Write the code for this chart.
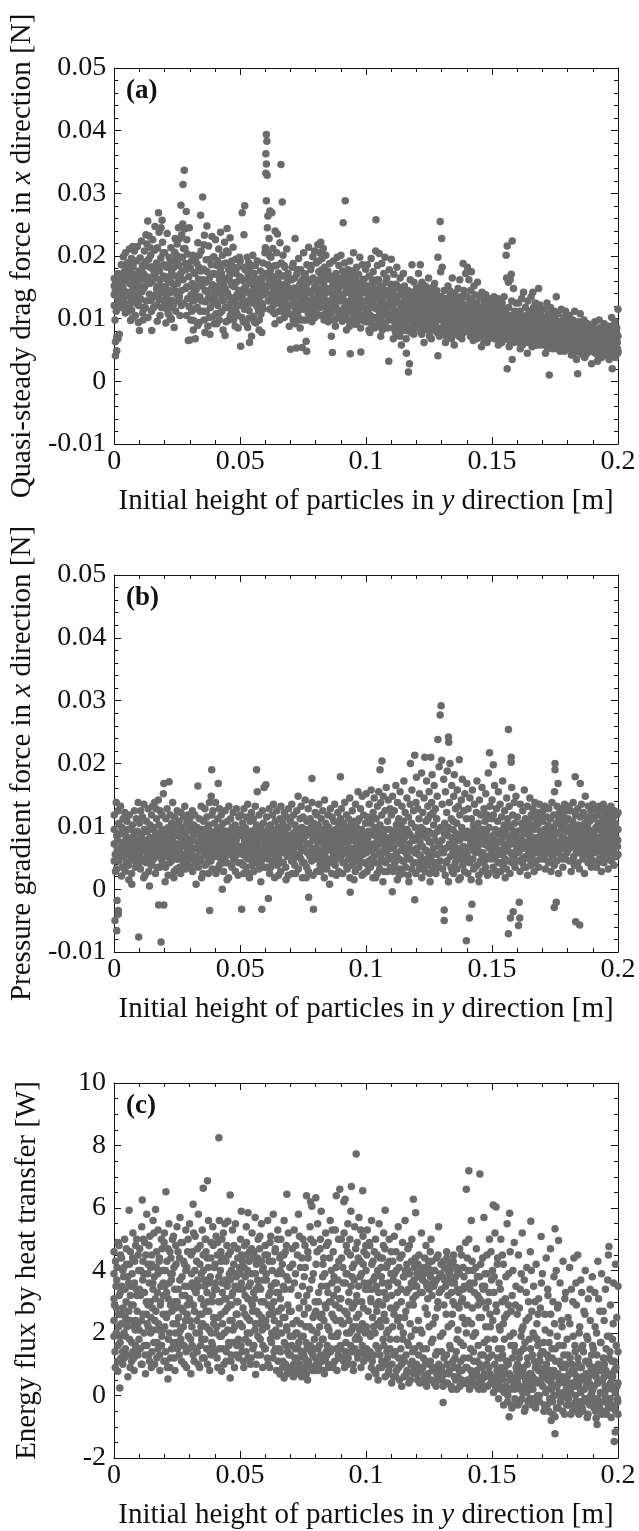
<!DOCTYPE html>
<html><head><meta charset="utf-8">
<script src="https://cdn.jsdelivr.net/npm/echarts@6/dist/echarts.min.js"></script>
<style>html,body{margin:0;padding:0;background:#fff}#c{width:639px;height:1531px}</style>
</head><body><div id="c"></div>
<script>
const heightTicks = ['0','0.05','0.1','0.15','0.2'];
const forceTicks = ['-0.01','0','0.01','0.02','0.03','0.04','0.05'];
const fluxTicks = ['-2','0','2','4','6','8','10'];

// (a) quasi-steady drag force [N] vs initial height [m]
const dragForce = [
[0,.0152],[0,.0138],[0,.0121],[0,.0164],[.0005,.0041],[.001,.0049],[.0005,.0063],[.001,.0071],[.0015,.0068],[.002,.0075],[.0003,.0098],[.0008,.0112],[.0012,.0145],[.0015,.0172],[.002,.0158],[.0025,.0131],[.0028,.0186],[.003,.0162],[.0035,.0148],[.0036,.0199],[.004,.0175],[.0042,.0121],[.0045,.0205],[.0048,.0168],[.005,.0142],[.0052,.0189],[.0055,.0112],[.0058,.0157],[.006,.0211],[.0062,.0178],[.0065,.0134],[.0068,.0196],[.007,.0162],[.0072,.0101],[.0075,.0183],[.0078,.0148],[.008,.0208],[.0082,.0171],[.0085,.0125],[.0088,.0192],[.009,.0155],[.0092,.0215],[.0095,.0138],[.0098,.0176],[.0096,.0094],[.0065,.0097],[.0033,.0139],[.0018,.0127],[.0074,.0215],[.0086,.0161],
[.0100,.0081],[.0103,.0197],[.0105,.0162],[.0108,.0224],[.011,.0143],[.0112,.0185],[.0115,.0118],[.0118,.0171],[.012,.0208],[.0122,.0152],[.0125,.0191],[.0128,.0128],[.013,.0219],[.0133,.0256],[.0135,.0166],[.0138,.0232],[.014,.0139],[.0142,.0182],[.0145,.0201],[.0148,.0112],[.0149,.0081],[.015,.0158],[.0153,.0226],[.0155,.0178],[.0158,.0135],[.016,.0209],[.0162,.0247],[.0165,.0165],[.0168,.0189],[.017,.0122],[.0172,.0213],[.0175,.0152],[.0176,.0269],[.0178,.0238],[.018,.0176],[.0182,.0105],[.0185,.0197],[.0188,.0141],[.019,.0257],[.0192,.0222],[.0195,.0168],[.0198,.0128],[.0196,.0186],[.0114,.0098],[.0126,.0234],[.0186,.0245],[.0143,.0213],[.0168,.0148],
[.0200,.0205],[.0203,.0151],[.0205,.0093],[.0208,.0182],[.021,.0236],[.0212,.0124],[.0215,.0167],[.0218,.0198],[.022,.0141],[.0222,.0102],[.0225,.0213],[.0228,.0176],[.023,.0129],[.0232,.0192],[.0235,.0155],[.0238,.0086],[.024,.0206],[.0242,.0228],[.0245,.0168],[.0248,.0139],[.025,.0219],[.0252,.0188],[.0255,.0245],[.0258,.0162],[.026,.0228],[.0262,.0198],[.0265,.0281],[.0268,.0234],[.027,.0176],[.0272,.0251],[.0273,.0314],[.0275,.0212],[.0278,.0337],[.028,.0243],[.0282,.0188],[.0284,.0148],[.0286,.0271],[.0288,.0226],[.029,.0203],[.0292,.0132],[.0294,.0065],[.0296,.0167],[.0298,.0245],[.0226,.0118],[.0246,.0192],[.0266,.0121],[.0287,.0105],[.0259,.0135],
[.0300,.0066],[.0302,.0181],[.0305,.0138],[.0308,.0112],[.031,.0156],[.0312,.0201],[.0315,.0097],[.0318,.0129],[.032,.0172],[.0322,.0068],[.0325,.0146],[.0328,.0188],[.033,.0118],[.0332,.0221],[.0335,.0163],[.0338,.0094],[.034,.0135],[.0343,.0265],[.0345,.0208],[.0348,.0152],[.0351,.0294],[.0353,.0112],[.0355,.0179],[.0358,.0233],[.036,.0078],[.0362,.0127],[.0365,.0194],[.0368,.0248],[.037,.0142],[.0372,.0088],[.0375,.0216],[.0378,.0165],[.038,.0075],[.0382,.0118],[.0385,.0186],[.0388,.0231],[.039,.0154],[.0392,.0103],[.0395,.0199],[.0398,.0138],[.0336,.0182],[.0364,.0158],[.0384,.0132],[.0316,.0174],[.0356,.0218],
[.0400,.0171],[.0402,.0226],[.0405,.0128],[.0408,.0092],[.041,.0193],[.0412,.0145],[.0415,.0211],[.0418,.0162],[.042,.0109],[.0422,.0238],[.0425,.0183],[.0428,.0135],[.043,.0201],[.0432,.0082],[.0435,.0157],[.0438,.0222],[.044,.0073],[.0442,.0118],[.0445,.0189],[.0448,.0244],[.045,.0141],[.0452,.0205],[.0455,.0098],[.0458,.0168],[.046,.0229],[.0462,.0125],[.0465,.0186],[.0468,.0153],[.047,.0102],[.0472,.0214],[.0475,.0176],[.0478,.0131],[.048,.0088],[.0482,.0195],[.0485,.0158],[.0488,.0122],[.049,.0182],[.0492,.0085],[.0495,.0145],[.0498,.0167],[.0446,.0208],[.0466,.0114],[.0426,.0172],[.0486,.0109],
[.0500,.0192],[.0502,.0056],[.0505,.0132],[.0508,.0269],[.051,.0161],[.0512,.0095],[.0515,.0234],[.0518,.028],[.052,.0178],[.0522,.0121],[.0525,.0145],[.0528,.0198],[.053,.0086],[.0532,.0165],[.0535,.0113],[.0537,.0062],[.054,.0182],[.0542,.0138],[.0545,.0072],[.0548,.0155],[.055,.0201],[.0552,.0104],[.0555,.0172],[.0558,.0128],[.056,.0185],[.0562,.0093],[.0565,.0148],[.0568,.0192],[.057,.0118],[.0572,.0163],[.0575,.0082],[.0578,.0135],[.058,.0176],[.0582,.0107],[.0585,.0156],[.0586,.0078],[.0588,.0122],[.059,.0189],[.0592,.0142],[.0595,.0172],[.0598,.0205],[.0554,.0146],[.0534,.0189],[.0516,.0148],[.0574,.0112],
[.0600,.0213],[.0602,.0363],[.0602,.0332],[.0604,.0394],[.0604,.0347],[.0604,.0288],[.0606,.0383],[.0607,.0329],[.0608,.0245],[.061,.0264],[.061,.0186],[.0612,.0152],[.0615,.0228],[.0618,.0272],[.062,.0131],[.0622,.0198],[.0625,.0168],[.0626,.0269],[.0628,.0112],[.063,.0212],[.0632,.0147],[.0635,.0184],[.0638,.0092],[.0639,.024],[.064,.0158],[.0642,.0126],[.0645,.0205],[.0648,.0235],[.065,.0141],[.0652,.0173],[.0655,.0112],[.0658,.0221],[.066,.0138],[.0662,.0346],[.0663,.0189],[.0665,.0154],[.0667,.0286],[.0668,.0127],[.067,.0201],[.0672,.0168],[.0675,.0102],[.0678,.0182],[.068,.0131],[.0682,.0155],[.0685,.0211],[.0688,.0118],[.069,.0172],[.0692,.0141],[.0695,.0088],[.0698,.0163],[.0636,.0136],[.0616,.0201],[.0646,.0148],[.0673,.0135],
[.0700,.0051],[.0702,.0134],[.0705,.0162],[.0708,.0105],[.071,.0188],[.0712,.0125],[.0715,.0149],[.0718,.0228],[.072,.0092],[.0723,.0053],[.0725,.0171],[.0728,.0136],[.073,.0112],[.0732,.0196],[.0735,.0153],[.0738,.0085],[.074,.0178],[.0742,.0121],[.0746,.0054],[.0748,.0162],[.075,.0138],[.0752,.0205],[.0755,.0098],[.0758,.0171],[.076,.0126],[.0762,.0064],[.0764,.0048],[.0765,.0186],[.0768,.0145],[.077,.0109],[.0772,.0214],[.0775,.0159],[.0778,.0122],[.078,.0178],[.0782,.0142],[.0785,.0095],[.0788,.0199],[.079,.0165],[.0792,.0131],[.0795,.0208],[.0798,.0151],[.0744,.0142],[.0726,.0116],[.0756,.0152],[.0784,.0118],
[.0800,.0124],[.0802,.0189],[.0805,.0158],[.0808,.0218],[.081,.0142],[.0812,.0175],[.0815,.0205],[.0818,.0118],[.082,.0222],[.0822,.0168],[.0825,.0196],[.0828,.0135],[.083,.0212],[.0832,.0152],[.0835,.0182],[.0838,.0108],[.084,.0201],[.0842,.0163],[.0845,.0128],[.0848,.0176],[.085,.0095],[.0852,.0145],[.0855,.0188],[.0858,.0115],[.086,.0162],[.0862,.0072],[.0866,.0046],[.0868,.0138],[.087,.0192],[.0872,.0121],[.0875,.0155],[.0878,.0088],[.088,.0172],[.0882,.0131],[.0885,.0198],[.0888,.0111],[.089,.0148],[.0892,.0185],[.0895,.0128],[.0898,.0165],[.0834,.0138],[.0856,.0168],[.0814,.0146],[.0876,.0139],
[.0900,.0201],[.0903,.0134],[.0905,.0096],[.0907,.0176],[.0909,.0253],[.091,.0152],[.0913,.0118],[.0915,.0189],[.0917,.0288],[.0918,.0141],[.092,.0168],[.0922,.0082],[.0925,.0125],[.0928,.0178],[.093,.0145],[.0932,.0112],[.0935,.0192],[.0937,.0044],[.094,.0158],[.0942,.0131],[.0945,.0176],[.0948,.0102],[.095,.0205],[.0952,.0139],[.0955,.0165],[.0958,.0091],[.096,.0123],[.0962,.0182],[.0965,.0148],[.0968,.0108],[.097,.0171],[.0972,.0135],[.0975,.0198],[.0978,.0085],[.0979,.0047],[.098,.0152],[.0982,.0118],[.0985,.0186],[.0988,.0141],[.099,.0105],[.0992,.0163],[.0995,.0128],[.0998,.0179],[.0946,.0121],[.0966,.0157],[.0926,.0149],
[.1000,.0112],[.1002,.0152],[.1005,.0186],[.1008,.0095],[.101,.0138],[.1012,.0168],[.1015,.0078],[.1018,.0121],[.102,.0196],[.1022,.0145],[.1025,.0102],[.1028,.0175],[.103,.0131],[.1032,.0088],[.1035,.0159],[.1038,.0208],[.1039,.0258],[.104,.0116],[.1042,.0142],[.1045,.0185],[.1048,.0098],[.105,.0162],[.1052,.0204],[.1055,.0125],[.1058,.0072],[.106,.0151],[.1062,.0188],[.1065,.0109],[.1068,.0135],[.107,.0172],[.1072,.0092],[.1075,.0198],[.1078,.0145],[.108,.0118],[.1082,.0165],[.1085,.0085],[.1088,.0136],[.109,.0032],[.1092,.0178],[.1095,.0121],[.1098,.0155],[.1046,.0132],[.1026,.0118],[.1066,.0148],
[.1100,.0195],[.1102,.0098],[.1105,.0142],[.1108,.0068],[.111,.0171],[.1112,.0125],[.1115,.0088],[.1118,.0155],[.112,.0112],[.1122,.0182],[.1125,.0136],[.1128,.0075],[.113,.0148],[.1132,.0104],[.1135,.0165],[.1138,.0121],[.114,.0058],[.1142,.0138],[.1145,.0092],[.1148,.0172],[.115,.0115],[.1152,.0152],[.1155,.0081],[.1158,.0128],[.116,.0045],[.1162,.0098],[.1165,.0145],[.1168,.0015],[.117,.0118],[.1172,.0028],[.1175,.0162],[.1178,.0105],[.118,.0139],[.1182,.0186],[.1185,.0085],[.1188,.0124],[.119,.0158],[.1192,.0095],[.1195,.0132],[.1198,.0112],[.1146,.0125],[.1126,.0095],[.1166,.0112],[.1106,.0122],
[.1200,.0148],[.1202,.0088],[.1205,.0125],[.1208,.0172],[.121,.0101],[.1212,.0141],[.1215,.0186],[.1218,.0078],[.122,.0118],[.1222,.0158],[.1225,.0095],[.1228,.0135],[.123,.0062],[.1232,.0112],[.1235,.0152],[.1238,.0128],[.124,.0085],[.1242,.0142],[.1245,.0105],[.1248,.0165],[.125,.0122],[.1252,.0072],[.1255,.0138],[.1258,.0098],[.126,.0149],[.1262,.0118],[.1265,.0082],[.1268,.0132],[.127,.0108],[.1272,.0156],[.1275,.0091],[.1278,.0125],[.128,.0145],[.1282,.0078],[.1285,.0198],[.1285,.0041],[.1288,.0115],[.129,.0135],[.1294,.0255],[.1296,.0175],[.1298,.0098],[.1246,.0115],[.1226,.0145],[.1266,.0128],
[.1300,.0228],[.1302,.0182],[.1305,.0125],[.1308,.0088],[.131,.0145],[.1312,.0108],[.1315,.0062],[.1318,.0132],[.132,.0095],[.1322,.0118],[.1325,.0152],[.1328,.0075],[.133,.0128],[.1332,.0102],[.1335,.0138],[.1338,.0085],[.134,.0115],[.1342,.0165],[.1345,.0092],[.1348,.0122],[.135,.0058],[.1352,.0141],[.1355,.0105],[.1358,.0132],[.136,.0078],[.1362,.0118],[.1365,.0148],[.1368,.0088],[.137,.0125],[.1372,.0162],[.1375,.0098],[.1378,.0135],[.138,.0068],[.1382,.0112],[.1385,.0188],[.1388,.0145],[.139,.0082],[.1392,.0122],[.1395,.0172],[.1398,.0102],[.1346,.0108],[.1326,.0118],[.1366,.0106],
[.1400,.0135],[.1402,.0182],[.1405,.0092],[.1408,.0162],[.141,.0118],[.1412,.0078],[.1415,.0145],[.1418,.0175],[.142,.0105],[.1422,.0128],[.1425,.0065],[.1428,.0152],[.143,.0098],[.1432,.0138],[.1435,.0115],[.1438,.0082],[.144,.0125],[.1442,.0158],[.1445,.0072],[.1448,.0108],[.145,.0135],[.1452,.0095],[.1455,.0118],[.1458,.0055],[.146,.0142],[.1462,.0085],[.1465,.0112],[.1468,.0128],[.147,.0078],[.1472,.0102],[.1475,.0138],[.1478,.0092],[.148,.0062],[.1482,.0115],[.1485,.0132],[.1488,.0085],[.149,.0105],[.1492,.0122],[.1495,.0075],[.1498,.0098],[.1446,.0102],[.1426,.0112],[.1466,.0099],
[.1500,.0128],[.1502,.0088],[.1505,.0112],[.1508,.0135],[.151,.0068],[.1512,.0105],[.1515,.0122],[.1518,.0082],[.152,.0095],[.1522,.0132],[.1525,.0058],[.1528,.0112],[.153,.0085],[.1532,.0118],[.1535,.0098],[.1538,.0065],[.154,.0125],[.1542,.0078],[.1545,.0108],[.1548,.0135],[.155,.0072],[.1552,.0095],[.1555,.0115],[.1556,.0201],[.1558,.0165],[.156,.0216],[.156,.002],[.1562,.0088],[.1565,.0158],[.1568,.0055],[.157,.0105],[.1572,.0162],[.1576,.0171],[.1578,.0128],[.158,.0224],[.158,.0035],[.1582,.0092],[.1585,.0148],[.1588,.0062],[.159,.0112],[.1592,.0082],[.1595,.0125],[.1598,.0098],[.1546,.0092],[.1526,.0102],[.1566,.0118],
[.1600,.0105],[.1602,.0068],[.1605,.0125],[.1608,.0088],[.161,.0112],[.1612,.0052],[.1615,.0095],[.1618,.0132],[.162,.0078],[.1622,.0102],[.1625,.0142],[.1628,.0065],[.163,.0092],[.1632,.0118],[.1635,.0082],[.1638,.0105],[.164,.0045],[.1642,.0128],[.1645,.0088],[.1648,.0112],[.165,.0072],[.1652,.0098],[.1655,.0135],[.1658,.0062],[.166,.0108],[.1662,.0085],[.1665,.0118],[.1668,.0075],[.167,.0095],[.1672,.0125],[.1675,.0058],[.1678,.0102],[.168,.0082],[.1682,.0112],[.1685,.0068],[.1688,.0092],[.169,.0122],[.1692,.0078],[.1695,.0105],[.1698,.0088],[.1646,.0098],[.1626,.0085],[.1666,.0095],[.1685,.0148],[.1662,.0142],
[.1700,.0098],[.1702,.0062],[.1705,.0115],[.1708,.0078],[.171,.0102],[.1712,.0045],[.1715,.0088],[.1718,.0125],[.172,.0072],[.1722,.0095],[.1725,.0108],[.1727,.001],[.1728,.0058],[.173,.0085],[.1732,.0118],[.1735,.0068],[.1738,.0092],[.174,.0105],[.1742,.0052],[.1745,.0082],[.1748,.0112],[.175,.0075],[.1752,.0098],[.1755,.0135],[.1758,.0062],[.176,.0088],[.1762,.0108],[.1765,.0072],[.1768,.0095],[.177,.0048],[.1772,.0082],[.1775,.0115],[.1778,.0065],[.178,.0092],[.1782,.0078],[.1785,.0102],[.1788,.0055],[.179,.0088],[.1792,.0112],[.1795,.0068],[.1798,.0085],[.1746,.0092],[.1726,.0082],[.1766,.0085],[.1786,.0072],
[.1800,.0095],[.1802,.0058],[.1805,.0078],[.1808,.0105],[.181,.0065],[.1812,.0088],[.1815,.0042],[.1818,.0072],[.182,.0098],[.1822,.0055],[.1825,.0082],[.1828,.0112],[.183,.0062],[.1832,.0085],[.1835,.0035],[.1838,.0072],[.184,.0012],[.1842,.0095],[.1845,.0058],[.1848,.0078],[.185,.0108],[.1852,.0045],[.1855,.0068],[.1858,.0088],[.186,.0052],[.1862,.0075],[.1865,.0098],[.1868,.0038],[.187,.0065],[.1872,.0085],[.1875,.0055],[.1878,.0072],[.188,.0092],[.1882,.0048],[.1885,.0068],[.1888,.0082],[.189,.0058],[.1892,.0075],[.1895,.0028],[.1898,.0062],[.1846,.0062],[.1826,.0072],[.1866,.0062],[.1886,.0058],
[.1900,.0088],[.1902,.0052],[.1905,.0072],[.1908,.0095],[.191,.0045],[.1912,.0065],[.1915,.0082],[.1918,.0032],[.192,.0058],[.1922,.0078],[.1925,.0098],[.1928,.0048],[.193,.0068],[.1932,.0085],[.1935,.0038],[.1938,.0062],[.194,.0075],[.1942,.0052],[.1945,.0092],[.1948,.0065],[.195,.0042],[.1952,.0078],[.1955,.0058],[.1958,.0088],[.196,.0048],[.1962,.0068],[.1965,.0035],[.1968,.0082],[.197,.0055],[.1972,.0072],[.1975,.0102],[.1977,.002],[.1978,.0062],[.198,.0045],[.1982,.0078],[.1985,.0058],[.1988,.0095],[.199,.0038],[.1992,.0068],[.1995,.0085],[.1998,.0052],[.2,.0072],[.2,.0115],[.2,.0048],[.1946,.0062],[.1926,.0068],[.1966,.0058]
];
const dragForceMore = [
[.0004,.0143],[.0007,.0158],[.0013,.0133],[.0017,.0149],[.0022,.0166],[.0027,.0118],[.0031,.0151],[.0037,.0128],[.0041,.0161],[.0044,.0109],[.0049,.0182],[.0053,.0136],[.0057,.0171],[.0061,.0124],[.0066,.0155],[.0069,.0114],[.0073,.0145],[.0077,.0192],[.0081,.0132],[.0084,.0105],[.0089,.0141],[.0093,.0168],[.0097,.0121],
[.0101,.0151],[.0106,.0131],[.0109,.0176],[.0113,.0109],[.0117,.0148],[.0121,.0184],[.0124,.0117],[.0129,.0162],[.0134,.0102],[.0137,.0195],[.0141,.0156],[.0146,.0129],[.0151,.0183],[.0156,.0118],[.0159,.0171],[.0163,.0138],[.0167,.0212],[.0171,.0096],[.0174,.0182],[.0179,.0131],[.0183,.0162],[.0187,.0118],[.0191,.0151],[.0194,.0205],[.0199,.0142],
[.0201,.0117],[.0204,.0185],[.0207,.0132],[.0211,.0162],[.0214,.0108],[.0217,.0145],[.0221,.0189],[.0224,.0158],[.0227,.0099],[.0231,.0168],[.0234,.0121],[.0237,.0182],[.0241,.0145],[.0244,.0112],[.0247,.0201],[.0251,.0156],[.0254,.0128],[.0257,.0185],[.0261,.0105],[.0264,.0172],[.0267,.0145],[.0271,.0198],[.0274,.0162],[.0277,.0125],[.0281,.0212],[.0285,.0178],[.0289,.0151],[.0293,.0188],[.0297,.0119],
[.0301,.0152],[.0304,.0098],[.0307,.0192],[.0311,.0128],[.0314,.0082],[.0317,.0145],[.0321,.0116],[.0324,.0198],[.0327,.0135],[.0331,.0089],[.0334,.0152],[.0337,.0201],[.0341,.0112],[.0344,.0176],[.0347,.0128],[.0352,.0162],[.0357,.0098],[.0361,.0145],[.0366,.0112],[.0369,.0175],[.0373,.0132],[.0377,.0102],[.0381,.0195],[.0386,.0148],[.0391,.0125],[.0394,.0172],[.0397,.0092],
[.0401,.0138],[.0404,.0108],[.0407,.0185],[.0411,.0121],[.0414,.0152],[.0417,.0098],[.0421,.0175],[.0424,.0142],[.0427,.0112],[.0431,.0165],[.0434,.0128],[.0437,.0188],[.0441,.0148],[.0444,.0095],[.0447,.0162],[.0451,.0118],[.0454,.0178],[.0457,.0135],[.0461,.0105],[.0464,.0158],[.0467,.0192],[.0471,.0132],[.0474,.0098],[.0477,.0151],[.0481,.0115],[.0484,.0172],[.0487,.0138],[.0491,.0105],[.0494,.0121],[.0497,.0198],
[.0501,.0122],[.0504,.0165],[.0507,.0102],[.0511,.0139],[.0514,.0182],[.0517,.0115],[.0521,.0151],[.0524,.0092],[.0527,.0128],[.0531,.0172],[.0533,.0142],[.0536,.0101],[.0539,.0158],[.0543,.0125],[.0547,.0185],[.0551,.0132],[.0556,.0095],[.0559,.0162],[.0563,.0122],[.0567,.0138],[.0571,.0155],[.0576,.0098],[.0579,.0148],[.0583,.0125],[.0587,.0165],[.0591,.0115],[.0594,.0138],[.0597,.0152],
[.0601,.0172],[.0603,.0142],[.0609,.0205],[.0611,.0128],[.0614,.0162],[.0617,.0115],[.0621,.0178],[.0624,.0138],[.0627,.0152],[.0631,.0121],[.0634,.0165],[.0637,.0108],[.0641,.0142],[.0644,.0185],[.0647,.0125],[.0651,.0158],[.0654,.0135],[.0657,.0098],[.0661,.0168],[.0664,.0122],[.0669,.0148],[.0671,.0112],[.0674,.0185],[.0677,.0142],[.0681,.0108],[.0684,.0132],[.0687,.0158],[.0691,.0122],[.0694,.0148],[.0697,.0108],
[.0701,.0121],[.0704,.0145],[.0707,.0182],[.0711,.0098],[.0714,.0132],[.0717,.0165],[.0721,.0115],[.0724,.0142],[.0727,.0178],[.0731,.0102],[.0734,.0138],[.0737,.0125],[.0741,.0158],[.0743,.0098],[.0747,.0128],[.0751,.0115],[.0754,.0172],[.0757,.0135],[.0761,.0152],[.0763,.0098],[.0767,.0128],[.0771,.0162],[.0774,.0118],[.0777,.0142],[.0781,.0105],[.0783,.0185],[.0787,.0132],[.0791,.0115],[.0794,.0148],[.0797,.0102],
[.0801,.0152],[.0804,.0108],[.0807,.0135],[.0811,.0192],[.0813,.0125],[.0816,.0162],[.0819,.0145],[.0821,.0105],[.0824,.0178],[.0827,.0128],[.0831,.0158],[.0833,.0098],[.0836,.0142],[.0839,.0172],[.0841,.0118],[.0844,.0148],[.0847,.0102],[.0851,.0168],[.0853,.0128],[.0857,.0142],[.0861,.0108],[.0864,.0125],[.0867,.0152],[.0871,.0135],[.0874,.0098],[.0877,.0162],[.0881,.0118],[.0884,.0145],[.0887,.0102],[.0891,.0132],[.0894,.0155],[.0897,.0112],
[.0901,.0112],[.0904,.0162],[.0906,.0138],[.0911,.0102],[.0914,.0155],[.0916,.0128],[.0919,.0172],[.0921,.0108],[.0924,.0142],[.0927,.0098],[.0929,.0162],[.0931,.0125],[.0934,.0088],[.0936,.0152],[.0939,.0115],[.0941,.0172],[.0944,.0135],[.0947,.0092],[.0949,.0148],[.0951,.0112],[.0954,.0128],[.0957,.0162],[.0959,.0105],[.0961,.0138],[.0964,.0095],[.0967,.0128],[.0969,.0152],[.0971,.0115],[.0974,.0102],[.0977,.0142],[.0981,.0128],[.0984,.0098],[.0987,.0162],[.0991,.0118],[.0994,.0145],[.0997,.0095],
[.1001,.0128],[.1004,.0098],[.1007,.0142],[.1009,.0115],[.1011,.0082],[.1014,.0152],[.1017,.0105],[.1019,.0132],[.1021,.0092],[.1024,.0162],[.1027,.0125],[.1029,.0102],[.1031,.0148],[.1034,.0085],[.1037,.0135],[.1041,.0102],[.1044,.0162],[.1047,.0118],[.1049,.0088],[.1051,.0138],[.1054,.0108],[.1057,.0152],[.1059,.0095],[.1061,.0128],[.1064,.0082],[.1067,.0115],[.1069,.0142],[.1071,.0105],[.1074,.0125],[.1077,.0088],[.1079,.0158],[.1081,.0112],[.1084,.0138],[.1087,.0098],[.1089,.0122],[.1091,.0145],[.1094,.0105],[.1097,.0132],
[.1101,.0105],[.1104,.0132],[.1107,.0085],[.1109,.0115],[.1111,.0148],[.1114,.0102],[.1117,.0078],[.1119,.0128],[.1121,.0095],[.1124,.0152],[.1127,.0112],[.1129,.0088],[.1131,.0125],[.1134,.0072],[.1137,.0138],[.1139,.0098],[.1141,.0115],[.1144,.0082],[.1147,.0142],[.1149,.0105],[.1151,.0128],[.1154,.0092],[.1157,.0112],[.1159,.0068],[.1161,.0135],[.1164,.0102],[.1167,.0122],[.1169,.0085],[.1171,.0105],[.1174,.0132],[.1177,.0078],[.1179,.0118],[.1181,.0095],[.1184,.0142],[.1187,.0108],[.1189,.0075],[.1191,.0128],[.1194,.0102],[.1197,.0085],
[.1201,.0118],[.1204,.0102],[.1207,.0135],[.1209,.0085],[.1211,.0125],[.1214,.0098],[.1217,.0152],[.1219,.0112],[.1221,.0075],[.1224,.0132],[.1227,.0105],[.1229,.0088],[.1231,.0128],[.1234,.0095],[.1237,.0142],[.1239,.0102],[.1241,.0118],[.1244,.0082],[.1247,.0135],[.1249,.0098],[.1251,.0112],[.1254,.0088],[.1257,.0125],[.1259,.0068],[.1261,.0102],[.1264,.0135],[.1267,.0095],[.1269,.0118],[.1271,.0082],[.1274,.0108],[.1277,.0142],[.1279,.0098],[.1281,.0112],[.1284,.0085],[.1287,.0128],[.1289,.0102],[.1291,.0072],[.1293,.0118],[.1297,.0135],
[.1301,.0105],[.1304,.0078],[.1307,.0118],[.1309,.0095],[.1311,.0132],[.1314,.0085],[.1317,.0108],[.1319,.0072],[.1321,.0125],[.1324,.0098],[.1327,.0112],[.1329,.0082],[.1331,.0145],[.1334,.0092],[.1337,.0115],[.1339,.0068],[.1341,.0102],[.1344,.0128],[.1347,.0085],[.1349,.0108],[.1351,.0075],[.1354,.0118],[.1357,.0095],[.1359,.0135],[.1361,.0082],[.1364,.0102],[.1367,.0122],[.1369,.0072],[.1371,.0098],[.1374,.0112],[.1377,.0085],[.1379,.0125],[.1381,.0092],[.1384,.0105],[.1387,.0078],[.1389,.0115],[.1391,.0098],[.1394,.0135],[.1397,.0082],
[.1401,.0108],[.1404,.0122],[.1407,.0085],[.1409,.0098],[.1411,.0132],[.1414,.0072],[.1417,.0105],[.1419,.0092],[.1421,.0118],[.1424,.0085],[.1427,.0102],[.1429,.0125],[.1431,.0078],[.1434,.0095],[.1437,.0112],[.1439,.0068],[.1441,.0102],[.1444,.0088],[.1447,.0118],[.1449,.0082],[.1451,.0105],[.1454,.0072],[.1457,.0095],[.1459,.0112],[.1461,.0078],[.1464,.0098],[.1467,.0062],[.1469,.0088],[.1471,.0118],[.1474,.0082],[.1477,.0105],[.1479,.0072],[.1481,.0095],[.1484,.0108],[.1487,.0068],[.1489,.0088],[.1491,.0102],[.1494,.0078],[.1497,.0115],
[.1501,.0098],[.1504,.0075],[.1507,.0102],[.1509,.0088],[.1511,.0115],[.1514,.0068],[.1517,.0092],[.1519,.0105],[.1521,.0078],[.1524,.0088],[.1527,.0102],[.1529,.0072],[.1531,.0095],[.1534,.0082],[.1537,.0108],[.1539,.0062],[.1541,.0092],[.1544,.0075],[.1547,.0098],[.1549,.0085],[.1551,.0105],[.1554,.0068],[.1557,.0082],[.1559,.0095],[.1561,.0072],[.1564,.0105],[.1567,.0085],[.1569,.0065],[.1571,.0092],[.1574,.0078],[.1577,.0102],[.1579,.0088],[.1581,.0068],[.1584,.0098],[.1587,.0075],[.1589,.0088],[.1591,.0102],[.1594,.0065],[.1597,.0085],
[.1601,.0092],[.1604,.0078],[.1607,.0098],[.1609,.0062],[.1611,.0085],[.1614,.0108],[.1617,.0072],[.1619,.0088],[.1621,.0058],[.1624,.0095],[.1627,.0078],[.1629,.0102],[.1631,.0065],[.1634,.0088],[.1637,.0075],[.1639,.0095],[.1641,.0062],[.1644,.0082],[.1647,.0098],[.1649,.0068],[.1651,.0085],[.1654,.0072],[.1657,.0092],[.1659,.0055],[.1661,.0078],[.1664,.0098],[.1667,.0065],[.1669,.0082],[.1671,.0072],[.1674,.0088],[.1677,.0058],[.1679,.0078],[.1681,.0095],[.1684,.0062],[.1687,.0082],[.1689,.0072],[.1691,.0092],[.1694,.0058],[.1697,.0078],
[.1701,.0082],[.1704,.0068],[.1707,.0092],[.1709,.0058],[.1711,.0075],[.1714,.0098],[.1717,.0062],[.1719,.0082],[.1721,.0052],[.1724,.0072],[.1727,.0088],[.1729,.0065],[.1731,.0078],[.1734,.0095],[.1737,.0055],[.1739,.0075],[.1741,.0085],[.1744,.0062],[.1747,.0072],[.1749,.0092],[.1751,.0058],[.1754,.0078],[.1757,.0068],[.1759,.0085],[.1761,.0052],[.1764,.0072],[.1767,.0082],[.1769,.0062],[.1771,.0075],[.1774,.0088],[.1777,.0055],[.1779,.0072],[.1781,.0065],[.1784,.0085],[.1787,.0048],[.1789,.0068],[.1791,.0078],[.1794,.0058],[.1797,.0072],
[.1801,.0072],[.1804,.0085],[.1807,.0052],[.1809,.0068],[.1811,.0078],[.1814,.0058],[.1817,.0092],[.1819,.0062],[.1821,.0072],[.1824,.0045],[.1827,.0065],[.1829,.0082],[.1831,.0055],[.1834,.0072],[.1837,.0062],[.1839,.0085],[.1841,.0048],[.1844,.0068],[.1847,.0075],[.1849,.0058],[.1851,.0082],[.1854,.0052],[.1857,.0065],[.1859,.0078],[.1861,.0042],[.1864,.0062],[.1867,.0072],[.1869,.0055],[.1871,.0078],[.1874,.0065],[.1877,.0045],[.1879,.0082],[.1881,.0062],[.1884,.0052],[.1887,.0072],[.1889,.0065],[.1891,.0085],[.1894,.0048],[.1897,.0068],
[.1901,.0065],[.1904,.0078],[.1907,.0048],[.1909,.0062],[.1911,.0082],[.1914,.0055],[.1917,.0068],[.1919,.0042],[.1921,.0072],[.1924,.0058],[.1927,.0085],[.1929,.0062],[.1931,.0045],[.1934,.0072],[.1937,.0055],[.1939,.0078],[.1941,.0065],[.1944,.0048],[.1947,.0075],[.1949,.0058],[.1951,.0068],[.1954,.0082],[.1957,.0045],[.1959,.0065],[.1961,.0075],[.1964,.0052],[.1967,.0068],[.1969,.0088],[.1971,.0042],[.1974,.0062],[.1977,.0072],[.1979,.0055],[.1981,.0082],[.1984,.0065],[.1987,.0048],[.1989,.0072],[.1991,.0058],[.1994,.0078],[.1997,.0062],[.1999,.0045]
];

// (b) pressure gradient force [N] vs initial height [m]
const pressureForce = [
[0,.0072],[0,.0095],[0,.0118],[0,.0045],[.0003,-.005],[.001,-.0066],[.0016,-.0034],[.0016,-.004],[.0011,-.0018],[.0005,.0028],[.0008,.0138],[.001,.0085],[.0012,.0062],[.0015,.0125],[.0018,.0105],[.002,.0052],[.0022,.0088],[.0025,.0132],[.0028,.0068],[.003,.0098],[.0032,.0035],[.0035,.0112],[.0038,.0075],[.004,.0058],[.0042,.0122],[.0045,.0092],[.0048,.0042],[.005,.0108],[.0052,.0065],[.0055,.0082],[.0058,.0015],[.006,.0118],[.0062,.0055],[.0065,.0095],[.0068,.0072],[.007,.0008],[.0072,.0102],[.0075,.0062],[.0078,.0085],[.008,.0125],[.0082,.0045],[.0085,.0078],[.0088,.0112],[.009,.0058],[.0092,.0092],[.0095,.0138],[.0097,-.0076],[.0098,.0068],[.0046,.0078],[.0066,.0048],
[.0100,.0105],[.0102,.0075],[.0105,.0125],[.0108,.0048],[.011,.0088],[.0112,.0115],[.0115,.0062],[.0118,.0135],[.012,.0095],[.0122,.0022],[.0125,.0078],[.0128,.0108],[.013,.0055],[.0132,.0092],[.0135,.0128],[.0138,.0068],[.014,.0005],[.0142,.0102],[.0145,.0082],[.0148,.0118],[.015,.0045],[.0152,.0132],[.0155,.0072],[.0158,.0098],[.016,.0138],[.0162,.0058],[.0165,.0088],[.0168,.0112],[.017,.0035],[.0172,.0075],[.0175,.0142],[.0176,-.0025],[.0178,.0102],[.018,.0062],[.0182,.0125],[.0185,.0085],[.0186,-.0084],[.0188,.0048],[.019,.0118],[.0192,.0095],[.0195,.0152],[.0197,-.0025],[.0197,.0168],[.0198,.0068],[.0146,.0062],[.0166,.0128],
[.0200,.0088],[.0202,.0012],[.0205,.0112],[.0208,.0058],[.021,.0128],[.0212,.0075],[.0215,.0098],[.0218,.0171],[.022,.0042],[.0222,.0118],[.0225,.0082],[.0228,.0105],[.023,.0062],[.0232,.0138],[.0235,.0095],[.0238,.0028],[.024,.0115],[.0242,.0072],[.0245,.0102],[.0248,.0048],[.025,.0125],[.0252,.0085],[.0255,.0062],[.0258,.0108],[.026,.0035],[.0262,.0092],[.0265,.0122],[.0268,.0068],[.027,.0098],[.0272,.0052],[.0275,.0115],[.0278,.0078],[.028,.0132],[.0282,.0088],[.0285,.0042],[.0288,.0105],[.029,.0072],[.0292,.0118],[.0295,.0058],[.0298,.0095],[.0246,.0088],[.0226,.0065],[.0266,.0082],
[.0300,.0112],[.0302,.0068],[.0305,.0035],[.0308,.0092],[.031,.0125],[.0312,.0078],[.0315,.0102],[.0318,.0052],[.032,.0118],[.0322,.0088],[.0325,.0008],[.0328,.0065],[.033,.0098],[.0332,.0164],[.0335,.0075],[.0338,.0112],[.034,.0045],[.0342,.0085],[.0345,.0132],[.0348,.0062],[.035,.0095],[.0352,.0025],[.0355,.0108],[.0358,.0072],[.036,.0128],[.0362,.0055],[.0365,.0088],[.0368,.0115],[.037,.0042],[.0372,.0078],[.0375,.0102],[.0378,.0138],[.0379,-.0034],[.038,.0062],[.0382,.0092],[.0385,.0148],[.0387,.019],[.0388,.0118],[.039,.0072],[.0392,.0125],[.0395,.0058],[.0398,.0105],[.0336,.0095],[.0356,.0082],[.0376,.0085],
[.0400,.0082],[.0402,.0138],[.0405,.0065],[.0408,.0095],[.041,.0032],[.0412,.0112],[.0413,.0168],[.0415,.0075],[.0418,.0128],[.042,.0052],[.0422,.0098],[.0425,.0118],[.0428,.0068],[.0429,0],[.043,.0088],[.0432,.0105],[.0435,.0042],[.0438,.0078],[.044,.0125],[.0442,.0062],[.0445,.0092],[.0448,.0015],[.045,.0108],[.0452,.0072],[.0455,.0132],[.0458,.0055],[.046,.0085],[.0462,.0112],[.0465,.0038],[.0468,.0098],[.047,.0068],[.0472,.0122],[.0475,.0082],[.0478,.0048],[.048,.0102],[.0482,.0075],[.0485,.0128],[.0488,.0058],[.049,.0092],[.0492,.0022],[.0495,.0115],[.0498,.0065],[.0446,.0065],[.0426,.0085],[.0466,.0078],
[.0500,.0095],[.0502,.0118],[.0505,.0062],[.0506,-.0032],[.0508,.0085],[.051,.0105],[.0512,.0038],[.0515,.0128],[.0518,.0072],[.052,.0098],[.0522,.0052],[.0525,.0115],[.0528,.0082],[.053,.0135],[.0532,.0065],[.0535,.0092],[.0538,.0025],[.054,.0108],[.0542,.0075],[.0545,.0122],[.0548,.0048],[.055,.0088],[.0552,.0112],[.0555,.0058],[.0558,.0095],[.056,.0132],[.0562,.0068],[.0565,.019],[.0565,.0102],[.0568,.0155],[.057,.0042],[.0572,.0085],[.0575,.0118],[.0578,.0062],[.058,.0098],[.0582,.0012],[.0585,.0078],[.0586,-.0032],[.0588,.0125],[.059,.0052],[.0592,.0105],[.0595,.0162],[.0598,.0072],[.0546,.0082],[.0526,.0068],[.0566,.0078],
[.0600,.0088],[.0602,.0166],[.0605,.0115],[.0608,.0058],[.061,.0095],[.0612,-.0015],[.0615,.0128],[.0618,.0072],[.062,.0102],[.0622,.0035],[.0625,.0082],[.0628,.0118],[.063,.0065],[.0632,.0135],[.0635,.0092],[.0638,.0048],[.064,.0108],[.0642,.0075],[.0645,.0125],[.0648,.0058],[.065,.0098],[.0652,.0022],[.0655,.0085],[.0658,.0112],[.066,.0068],[.0662,.0132],[.0665,.0092],[.0668,.0042],[.067,.0105],[.0672,.0078],[.0675,.0122],[.0678,.0062],[.068,.0088],[.0682,.0015],[.0685,.0115],[.0688,.0072],[.069,.0098],[.0692,.0128],[.0695,.0052],[.0698,.0085],[.0646,.0085],[.0626,.0095],[.0666,.0072],
[.0700,.0108],[.0702,.0065],[.0705,.0135],[.0708,.0088],[.071,.0045],[.0712,.0118],[.0715,.0078],[.0718,.0102],[.072,.0025],[.0722,.0092],[.0725,.0125],[.0728,.0068],[.073,.0148],[.0732,.0085],[.0735,.0055],[.0738,.0112],[.074,.0075],[.0742,.0132],[.0745,.0098],[.0748,.0042],[.075,.0115],[.0752,.0082],[.0755,.0062],[.0758,.0142],[.076,.0095],[.0762,.0018],[.0765,.0108],[.0768,.0072],[.077,.0128],[.0772,-.0013],[.0775,.0088],[.0778,.0112],[.078,.0058],[.0782,.0098],[.0785,.0176],[.0785,.0138],[.0788,.0078],[.0791,-.0032],[.0792,.0105],[.0795,.0065],[.0798,.0122],[.0746,.0085],[.0726,.0095],[.0766,.0088],
[.0800,.0092],[.0802,.0048],[.0805,.0118],[.0808,.0075],[.081,.0102],[.0812,.0135],[.0815,.0062],[.0818,.0088],[.082,.0028],[.0822,.0112],[.0825,.0078],[.0828,.0125],[.083,.0055],[.0832,.0095],[.0835,.0142],[.0838,.0068],[.084,.0105],[.0842,.0038],[.0845,.0085],[.0848,.0118],[.085,.0072],[.0852,.0098],[.0855,.0008],[.0858,.0128],[.086,.0062],[.0862,.0092],[.0865,.0115],[.0868,.0048],[.087,.0082],[.0872,.0108],[.0875,.0135],[.0878,.0065],[.088,.0095],[.0882,.0022],[.0885,.0078],[.0888,.0122],[.089,.0058],[.0892,.0102],[.0895,.0085],[.0898,.0179],[.0898,.0112],[.0846,.0095],[.0826,.0082],[.0866,.0075],
[.0900,.0068],[.0902,.0128],[.0905,.0092],[.0908,.0042],[.091,.0105],[.0912,.0075],[.0915,.0138],[.0918,.0058],[.092,.0098],[.0922,.0118],[.0925,.0032],[.0928,.0085],[.093,.0112],[.0932,.0065],[.0935,.0145],[.0937,-.0005],[.0938,.0088],[.094,.0102],[.0942,.0052],[.0945,.0125],[.0948,.0078],[.095,.0108],[.0952,.0015],[.0955,.0092],[.0958,.0135],[.096,.0062],[.0962,.0098],[.0965,.0072],[.0968,.0155],[.097,.0045],[.0972,.0112],[.0975,.0082],[.0978,.0128],[.098,.0058],[.0982,.0095],[.0985,.0148],[.0988,.0068],[.099,.0118],[.0992,.0025],[.0995,.0088],[.0998,.0105],[.0946,.0085],[.0926,.0075],[.0966,.0108],
[.1000,.0152],[.1002,.0075],[.1005,.0115],[.1008,.0038],[.101,.0092],[.1012,.0135],[.1015,.0062],[.1018,.0105],[.102,.0158],[.1022,.0048],[.1025,.0088],[.1028,.0122],[.103,.0072],[.1032,.0145],[.1035,.0098],[.1038,.0018],[.104,.0112],[.1042,.0065],[.1045,.0132],[.1048,.0085],[.105,.0155],[.1052,.0042],[.1055,.019],[.1055,.0102],[.1058,.0138],[.106,.0078],[.1063,.0204],[.1062,.0118],[.1065,.0058],[.1068,.0148],[.107,.0092],[.1072,.0028],[.1075,.0125],[.1078,.0082],[.108,.0162],[.1082,.0068],[.1085,.0108],[.1088,.0142],[.109,.0052],[.1092,.0095],[.1095,.0128],[.1098,.0075],[.1104,-.0004],[.1046,.0095],[.1026,.0112],[.1066,.0088],
[.1100,.0118],[.1102,.0065],[.1105,.0148],[.1108,.0092],[.111,.0035],[.1112,.0125],[.1115,.0078],[.1118,.0165],[.112,.0102],[.1122,.0052],[.1125,.0138],[.1128,.0085],[.113,.0112],[.1132,.0022],[.1135,.0155],[.1138,.0072],[.114,.0098],[.1142,.0132],[.1145,.0045],[.1148,.0108],[.115,.0172],[.1152,.0082],[.1155,.0122],[.1158,.0058],[.116,.0095],[.1162,.0145],[.1165,.0068],[.1168,.0115],[.117,.0012],[.1172,.0088],[.1175,.0135],[.1176,.02],[.1178,.0062],[.118,.0105],[.1182,.0158],[.1185,.0078],[.1188,.0125],[.119,.0042],[.1193,.0213],[.1193,-.0017],[.1195,.0098],[.1198,.0138],[.1146,.0088],[.1126,.0105],[.1166,.0092],
[.1200,.0178],[.1202,.0082],[.1205,.0128],[.1208,.0055],[.121,.0112],[.1212,.0152],[.1215,.0068],[.1218,.0098],[.122,.0185],[.1222,.0038],[.1225,.0122],[.1228,.0085],[.123,.0145],[.1233,.021],[.1235,.0062],[.1238,.0108],[.124,.0172],[.1242,.0048],[.1245,.0132],[.1248,.0092],[.125,.0155],[.1252,.0025],[.1255,.0118],[.1257,.021],[.1258,.0075],[.126,.0138],[.1262,.0182],[.1265,.0058],[.1268,.0102],[.127,.0165],[.1272,.0088],[.1275,.0128],[.1278,.0042],[.128,.0112],[.1282,.0148],[.1285,.0238],[.1288,.0072],[.129,.0195],[.1294,.0277],[.1298,.0292],[.1296,.0098],[.1246,.0112],[.1226,.0095],[.1266,.0122],
[.1300,.0205],[.1302,.0135],[.1305,.0062],[.1308,.0175],[.131,-.0033],[.131,-.005],[.1312,.0105],[.1315,.0155],[.1318,.0042],[.132,.0122],[.1322,.0188],[.1325,.0085],[.1327,.0242],[.1328,.0234],[.133,.0138],[.1333,.02],[.1335,.0068],[.1338,.0112],[.134,.0165],[.1342,.0028],[.1345,.0095],[.1348,.0148],[.135,.0182],[.1352,.0075],[.1355,.0128],[.1358,.0052],[.136,.0105],[.1362,.0158],[.1365,.0085],[.1368,.0015],[.137,.0206],[.1372,.0118],[.1375,.0065],[.1378,.0142],[.138,.0098],[.1382,.0175],[.1385,.0045],[.1388,.0125],[.139,.0088],[.1392,.0152],[.1395,.0062],[.1398,-.0082],[.1398,.0112],[.1346,.0108],[.1326,.0098],[.1366,.0132],
[.1400,.0168],[.1402,.0092],[.1405,.0128],[.1408,.0048],[.141,-.0046],[.1412,.0145],[.1415,.0075],[.1418,.0112],[.142,-.0024],[.1422,.0158],[.1425,.0062],[.1428,.0098],[.143,.0135],[.1432,.0035],[.1435,.0082],[.1438,.0122],[.144,.0172],[.1442,.0068],[.1445,.0105],[.1448,.0012],[.145,.0142],[.1452,.0088],[.1455,.0118],[.1458,.0055],[.146,.0162],[.1462,.0095],[.1465,.0072],[.1468,.0128],[.147,.0045],[.1472,.0108],[.1475,.0152],[.1478,.0082],[.148,.0118],[.1482,.0022],[.1485,.0185],[.1488,.0098],[.149,.0217],[.149,.0065],[.1492,.0132],[.1495,.0075],[.1498,.0112],[.1446,.0085],[.1426,.0102],[.1466,.0095],
[.1500,.0142],[.1502,.0085],[.1505,.0198],[.1505,.0118],[.1508,.0052],[.151,.0165],[.1512,.0095],[.1515,.0028],[.1518,.0128],[.152,.0075],[.1522,.0108],[.1525,.0155],[.1528,.0062],[.153,.0092],[.1532,.0135],[.1535,.0042],[.1538,.0115],[.154,.0082],[.1542,.0172],[.1545,.0058],[.1548,.0102],[.155,.0125],[.1552,.0018],[.1555,.0088],[.1558,.0145],[.156,.0068],[.1562,.0112],[.1565,.0254],[.1565,-.0071],[.1568,.0132],[.157,.0078],[.1573,-.0046],[.1575,.0098],[.1576,.021],[.1576,.0202],[.1578,.0162],[.158,.0055],[.1582,.0118],[.1584,-.0036],[.1585,.0085],[.1588,.0138],[.159,.0105],[.1592,.0072],[.1595,.0148],[.1598,.0092],[.1546,.0095],[.1526,.0088],[.1566,.0102],
[.1600,.0115],[.1602,.0068],[.1605,-.0058],[.1608,-.0021],[.161,-.0046],[.1612,.0135],[.1615,.0082],[.1618,.0105],[.162,.0048],[.1622,.0125],[.1625,.0092],[.1628,.0158],[.163,.0072],[.1632,.0112],[.1635,.0035],[.1638,.0098],[.164,.0132],[.1642,.0065],[.1645,.0108],[.1648,.0085],[.165,.0145],[.1652,.0052],[.1655,.0118],[.1658,.0078],[.166,.0102],[.1662,.0128],[.1665,.0062],[.1668,.0095],[.167,.0138],[.1672,.0042],[.1675,.0112],[.1678,.0082],[.168,.0122],[.1682,.0068],[.1685,.0105],[.1688,.0135],[.169,.0058],[.1692,.0092],[.1695,.0118],[.1698,.0075],[.1646,.0088],[.1626,.0072],[.1666,.0115],
[.1700,.0108],[.1702,.0125],[.1705,.0072],[.1708,.0095],[.171,.0132],[.1712,.0055],[.1715,.0088],[.1718,.0115],[.172,.0068],[.1722,.0102],[.1725,.0128],[.1728,.0082],[.173,.0045],[.1732,.0112],[.1735,.0098],[.1738,.0138],[.174,.0062],[.1742,.0092],[.1745,.0118],[.1747,-.0029],[.1748,.0155],[.175,.02],[.175,.019],[.1752,.0075],[.1755,-.0021],[.1755,.0105],[.1758,.0132],[.176,.0058],[.1762,.0168],[.1765,.0088],[.1768,.0122],[.177,.0072],[.1772,.0102],[.1775,.0128],[.1778,.0048],[.178,.0095],[.1782,.0118],[.1785,.0082],[.1788,.0135],[.179,.0065],[.1792,.0108],[.1795,.0092],[.1798,.0125],[.1746,.0085],[.1726,.0098],[.1766,.0112],[.1786,.0105],
[.1800,.0078],[.1802,.0112],[.1805,.0132],[.1808,.0065],[.181,.0098],[.1812,.0125],[.1815,.0085],[.1818,.0045],[.182,.0108],[.1822,.0138],[.1825,.0072],[.1828,.0095],[.183,.0179],[.1832,-.0052],[.1832,.0118],[.1835,.0058],[.1838,.0088],[.184,.0128],[.1842,.0102],[.1845,.0068],[.1848,-.0057],[.185,.0168],[.185,.0115],[.1852,.0082],[.1855,.0135],[.1858,.0055],[.186,.0095],[.1862,.0122],[.1865,.0075],[.1868,.0105],[.187,.0148],[.1872,.0088],[.1875,.0115],[.1878,.0062],[.188,.0098],[.1882,.0132],[.1885,.0078],[.1888,.0108],[.189,.0052],[.1892,.0125],[.1895,.0092],[.1898,.0115],[.1846,.0092],[.1826,.0102],[.1866,.0098],[.1886,.0085],
[.1900,.0135],[.1902,.0088],[.1905,.0112],[.1908,.0065],[.191,.0128],[.1912,.0098],[.1915,.0075],[.1918,.0118],[.192,.0042],[.1922,.0105],[.1925,.0132],[.1928,.0082],[.193,.0095],[.1932,.0125],[.1935,.0058],[.1938,.0112],[.194,.0088],[.1942,.0135],[.1945,.0072],[.1948,.0102],[.195,.0122],[.1952,.0065],[.1955,.0092],[.1958,.0128],[.196,.0048],[.1962,.0108],[.1965,.0085],[.1968,.0118],[.197,.0075],[.1972,.0132],[.1975,.0098],[.1978,.0062],[.198,.0115],[.1982,.0088],[.1985,.0125],[.1988,.0052],[.199,.0105],[.1992,.0082],[.1995,.0118],[.1998,.0068],[.2,.0095],[.2,.0122],[.2,.0055],[.1946,.0115],[.1926,.0078],[.1966,.0105]
];
const pressureForceMore = [
[.0004,.0055],[.0009,.0032],[.0013,.0078],[.0019,.0045],[.0024,.0062],[.0029,.0021],[.0033,.0088],[.0037,.0052],[.0041,.0071],[.0044,.0028],[.0049,.0065],[.0053,.0095],[.0056,.0038],[.0061,.0076],[.0064,.0058],[.0069,.0025],[.0073,.0082],[.0077,.0048],[.0081,.0068],[.0084,.0035],[.0089,.0091],[.0093,.0055],[.0096,.0072],[.0099,.0042],
[.0101,.0058],[.0104,.0032],[.0107,.0085],[.0111,.0048],[.0114,.0072],[.0117,.0018],[.0121,.0062],[.0124,.0092],[.0127,.0042],[.0131,.0075],[.0134,.0052],[.0137,.0028],[.0141,.0082],[.0144,.0058],[.0147,.0038],[.0151,.0068],[.0154,.0095],[.0157,.0048],[.0161,.0078],[.0164,.0025],[.0167,.0062],[.0171,.0088],[.0174,.0052],[.0177,.0072],[.0181,.0035],[.0184,.0065],[.0187,.0092],[.0191,.0042],[.0194,.0078],[.0199,.0055],
[.0201,.0068],[.0204,.0035],[.0207,.0082],[.0211,.0052],[.0214,.0022],[.0217,.0075],[.0221,.0062],[.0224,.0092],[.0227,.0045],[.0231,.0078],[.0234,.0055],[.0237,.0018],[.0241,.0088],[.0244,.0062],[.0247,.0032],[.0251,.0072],[.0254,.0048],[.0257,.0085],[.0261,.0058],[.0264,.0025],[.0267,.0095],[.0271,.0068],[.0274,.0042],[.0277,.0078],[.0281,.0055],[.0284,.0032],[.0287,.0082],[.0291,.0062],[.0294,.0045],[.0297,.0072],
[.0301,.0048],[.0304,.0078],[.0307,.0058],[.0311,.0028],[.0314,.0085],[.0317,.0065],[.0321,.0042],[.0324,.0092],[.0327,.0052],[.0331,.0075],[.0334,.0035],[.0337,.0062],[.0341,.0088],[.0344,.0048],[.0347,.0018],[.0351,.0072],[.0354,.0058],[.0357,.0095],[.0361,.0038],[.0364,.0068],[.0367,.0082],[.0371,.0052],[.0374,.0025],[.0377,.0062],[.0381,.0078],[.0384,.0045],[.0389,.0032],[.0391,.0088],[.0394,.0055],[.0397,.0072],
[.0401,.0052],[.0404,.0025],[.0407,.0072],[.0411,.0058],[.0414,.0088],[.0417,.0038],[.0421,.0065],[.0424,.0045],[.0427,.0095],[.0431,.0062],[.0434,.0028],[.0437,.0075],[.0441,.0052],[.0444,.0082],[.0447,.0042],[.0451,.0068],[.0454,.0018],[.0457,.0088],[.0461,.0058],[.0464,.0072],[.0467,.0035],[.0471,.0092],[.0474,.0048],[.0477,.0065],[.0481,.0028],[.0484,.0078],[.0487,.0055],[.0491,.0085],[.0494,.0042],[.0497,.0062],
[.0501,.0068],[.0504,.0042],[.0507,.0088],[.0511,.0055],[.0514,.0025],[.0517,.0078],[.0521,.0062],[.0524,.0035],[.0527,.0092],[.0531,.0048],[.0534,.0072],[.0537,.0018],[.0541,.0058],[.0544,.0085],[.0547,.0038],[.0551,.0065],[.0554,.0028],[.0557,.0078],[.0561,.0052],[.0564,.0095],[.0567,.0042],[.0571,.0068],[.0574,.0032],[.0577,.0082],[.0581,.0058],[.0584,.0045],[.0587,.0092],[.0591,.0062],[.0594,.0035],[.0597,.0075],
[.0601,.0062],[.0604,.0035],[.0607,.0082],[.0611,.0048],[.0614,.0072],[.0617,.0025],[.0621,.0058],[.0624,.0092],[.0627,.0042],[.0631,.0078],[.0634,.0055],[.0637,.0018],[.0641,.0068],[.0644,.0088],[.0647,.0038],[.0651,.0062],[.0654,.0048],[.0657,.0075],[.0661,.0028],[.0664,.0082],[.0667,.0058],[.0671,.0042],[.0674,.0095],[.0677,.0065],[.0681,.0035],[.0684,.0078],[.0687,.0052],[.0691,.0022],[.0694,.0072],[.0697,.0058],
[.0701,.0072],[.0704,.0045],[.0707,.0025],[.0711,.0082],[.0714,.0058],[.0717,.0038],[.0721,.0092],[.0724,.0052],[.0727,.0075],[.0731,.0032],[.0734,.0068],[.0737,.0088],[.0741,.0048],[.0744,.0062],[.0747,.0018],[.0751,.0078],[.0754,.0042],[.0757,.0065],[.0761,.0085],[.0764,.0035],[.0767,.0058],[.0771,.0028],[.0774,.0072],[.0777,.0052],[.0781,.0092],[.0784,.0045],[.0787,.0062],[.0789,.0022],[.0794,.0082],[.0797,.0055],
[.0801,.0065],[.0804,.0028],[.0807,.0085],[.0811,.0052],[.0814,.0075],[.0817,.0038],[.0821,.0062],[.0824,.0092],[.0827,.0045],[.0831,.0072],[.0834,.0018],[.0837,.0058],[.0841,.0082],[.0844,.0032],[.0847,.0068],[.0851,.0048],[.0854,.0088],[.0857,.0042],[.0861,.0075],[.0864,.0025],[.0867,.0062],[.0871,.0055],[.0874,.0092],[.0877,.0038],[.0881,.0068],[.0884,.0048],[.0887,.0082],[.0891,.0028],[.0894,.0058],[.0897,.0072],
[.0901,.0052],[.0904,.0082],[.0907,.0025],[.0911,.0062],[.0914,.0042],[.0917,.0088],[.0921,.0058],[.0924,.0035],[.0927,.0072],[.0931,.0048],[.0934,.0092],[.0936,.0018],[.0939,.0065],[.0941,.0078],[.0944,.0038],[.0947,.0058],[.0951,.0085],[.0954,.0045],[.0957,.0028],[.0961,.0072],[.0964,.0052],[.0967,.0088],[.0971,.0035],[.0974,.0062],[.0977,.0045],[.0981,.0078],[.0984,.0022],[.0987,.0055],[.0991,.0082],[.0994,.0042],[.0997,.0068],
[.1001,.0058],[.1004,.0028],[.1007,.0082],[.1011,.0045],[.1014,.0072],[.1017,.0035],[.1021,.0092],[.1024,.0062],[.1027,.0018],[.1031,.0052],[.1034,.0085],[.1037,.0042],[.1041,.0068],[.1044,.0025],[.1047,.0078],[.1051,.0055],[.1054,.0032],[.1057,.0088],[.1061,.0048],[.1064,.0072],[.1067,.0012],[.1071,.0062],[.1074,.0095],[.1077,.0042],[.1081,.0058],[.1084,.0028],[.1087,.0075],[.1091,.0048],[.1094,.0082],[.1097,.0035],
[.1101,.0052],[.1104,.0085],[.1107,.0028],[.1111,.0068],[.1114,.0042],[.1117,.0092],[.1121,.0058],[.1124,.0015],[.1127,.0075],[.1131,.0048],[.1134,.0032],[.1137,.0088],[.1141,.0062],[.1144,.0025],[.1147,.0078],[.1151,.0045],[.1154,.0065],[.1157,.0035],[.1161,.0095],[.1164,.0052],[.1167,.0022],[.1171,.0072],[.1174,.0048],[.1177,.0085],[.1181,.0032],[.1184,.0062],[.1187,.0042],[.1191,.0078],[.1194,.0058],[.1197,.0025],
[.1201,.0065],[.1204,.0042],[.1207,.0088],[.1211,.0032],[.1214,.0075],[.1217,.0052],[.1221,.0018],[.1224,.0068],[.1227,.0045],[.1231,.0092],[.1234,.0028],[.1237,.0062],[.1241,.0082],[.1244,.0038],[.1247,.0058],[.1251,.0075],[.1254,.0012],[.1257,.0048],[.1261,.0088],[.1264,.0032],[.1267,.0065],[.1271,.0042],[.1274,.0078],[.1277,.0025],[.1281,.0055],[.1284,.0092],[.1287,.0035],[.1291,.0068],[.1294,.0045],[.1297,.0058],
[.1301,.0078],[.1304,.0032],[.1307,.0058],[.1311,.0088],[.1314,.0022],[.1317,.0065],[.1321,.0045],[.1324,.0095],[.1327,.0012],[.1331,.0072],[.1334,.0052],[.1337,.0035],[.1341,.0082],[.1344,.0058],[.1347,.0025],[.1351,.0068],[.1354,.0042],[.1357,.0088],[.1361,.0032],[.1364,.0062],[.1367,.0048],[.1371,.0078],[.1374,.0018],[.1377,.0055],[.1381,.0092],[.1384,.0038],[.1387,.0068],[.1391,.0028],[.1394,.0082],[.1397,.0048],
[.1401,.0055],[.1404,.0025],[.1407,.0082],[.1411,.0042],[.1414,.0068],[.1417,.0015],[.1421,.0088],[.1424,.0048],[.1427,.0032],[.1431,.0072],[.1434,.0058],[.1437,.0095],[.1441,.0038],[.1444,.0062],[.1447,.0022],[.1451,.0078],[.1454,.0045],[.1457,.0085],[.1461,.0028],[.1464,.0058],[.1467,.0042],[.1471,.0072],[.1474,.0035],[.1477,.0092],[.1481,.0052],[.1484,.0068],[.1487,.0025],[.1491,.0082],[.1494,.0048],[.1497,.0062],
[.1501,.0058],[.1504,.0035],[.1507,.0082],[.1511,.0048],[.1514,.0068],[.1517,.0022],[.1521,.0092],[.1524,.0042],[.1527,.0075],[.1531,.0055],[.1534,.0028],[.1537,.0085],[.1541,.0062],[.1544,.0038],[.1547,.0072],[.1551,.0048],[.1554,.0092],[.1557,.0032],[.1561,.0065],[.1564,.0045],[.1567,.0082],[.1571,.0025],[.1574,.0058],[.1577,.0072],[.1581,.0042],[.1583,.0088],[.1587,.0052],[.1591,.0035],[.1594,.0078],[.1597,.0062],
[.1601,.0045],[.1604,.0082],[.1607,.0058],[.1611,.0028],[.1614,.0072],[.1617,.0095],[.1621,.0042],[.1624,.0065],[.1627,.0035],[.1631,.0088],[.1634,.0052],[.1637,.0075],[.1641,.0022],[.1644,.0062],[.1647,.0048],[.1651,.0092],[.1654,.0038],[.1657,.0068],[.1661,.0055],[.1664,.0082],[.1667,.0028],[.1671,.0072],[.1674,.0045],[.1677,.0098],[.1681,.0058],[.1684,.0035],[.1687,.0078],[.1691,.0048],[.1694,.0088],[.1697,.0062],
[.1701,.0085],[.1704,.0048],[.1707,.0068],[.1711,.0032],[.1714,.0078],[.1717,.0058],[.1721,.0092],[.1724,.0042],[.1727,.0072],[.1731,.0062],[.1734,.0028],[.1737,.0082],[.1741,.0052],[.1744,.0098],[.1747,.0038],[.1751,.0068],[.1754,.0088],[.1757,.0045],[.1761,.0075],[.1764,.0025],[.1767,.0062],[.1771,.0092],[.1774,.0052],[.1777,.0078],[.1781,.0035],[.1784,.0068],[.1787,.0095],[.1791,.0048],[.1794,.0072],[.1797,.0058],
[.1801,.0062],[.1804,.0092],[.1807,.0045],[.1811,.0075],[.1814,.0028],[.1817,.0068],[.1821,.0085],[.1824,.0052],[.1827,.0038],[.1831,.0078],[.1834,.0098],[.1837,.0062],[.1841,.0042],[.1844,.0088],[.1847,.0032],[.1851,.0072],[.1854,.0058],[.1857,.0095],[.1861,.0048],[.1864,.0068],[.1867,.0025],[.1871,.0082],[.1874,.0055],[.1877,.0092],[.1881,.0042],[.1884,.0072],[.1887,.0062],[.1891,.0088],[.1894,.0035],[.1897,.0078],
[.1901,.0072],[.1904,.0045],[.1907,.0092],[.1911,.0058],[.1914,.0035],[.1917,.0082],[.1921,.0065],[.1924,.0098],[.1927,.0048],[.1931,.0075],[.1934,.0028],[.1937,.0088],[.1941,.0062],[.1944,.0042],[.1947,.0082],[.1951,.0052],[.1954,.0095],[.1957,.0068],[.1961,.0032],[.1964,.0078],[.1967,.0058],[.1971,.0092],[.1974,.0045],[.1977,.0072],[.1981,.0062],[.1984,.0038],[.1987,.0085],[.1991,.0068],[.1994,.0052],[.1997,.0095],[.1999,.0078]
];

// (c) energy flux by heat transfer [W] vs initial height [m]
const heatFlux = [
[0,3.9],[0,3.1],[0,2.4],[0,1.9],[0,4.6],[.0005,0.9],[.0008,3.5],[.001,2.8],[.0012,4.1],[.0015,0.78],[.0015,1.6],[.0018,2.2],[.002,4.8],[.0023,0.24],[.0025,3.3],[.0028,1.2],[.003,4.4],[.0032,2.6],[.0035,1.0],[.0038,3.8],[.004,2.0],[.0042,5.0],[.0045,1.5],[.0048,3.0],[.005,4.2],[.0052,2.4],[.0055,0.6],[.0058,3.6],[.006,5.93],[.0062,1.8],[.0065,4.6],[.0068,2.9],[.007,1.1],[.0072,3.9],[.0075,5.2],[.0078,2.2],[.008,0.8],[.0082,4.3],[.0085,1.6],[.0088,3.4],[.009,5.0],[.0092,2.7],[.0095,1.3],[.0098,4.0],[.0045,2.5],[.0065,3.2],[.0025,1.9],[.0085,2.4],[.0035,4.0],[.0075,1.4],
[.0100,2.1],[.0102,4.7],[.0105,3.2],[.0108,1.0],[.011,5.4],[.0112,6.26],[.0115,2.6],[.0118,3.9],[.012,1.6],[.0122,4.9],[.0125,0.7],[.0128,3.0],[.013,5.8],[.0132,2.3],[.0135,4.2],[.0138,1.3],[.014,3.6],[.0142,5.1],[.0145,2.0],[.0148,0.9],[.015,4.5],[.0152,2.8],[.0155,5.6],[.0158,1.7],[.016,3.8],[.0162,2.4],[.0165,5.95],[.0168,4.1],[.017,1.2],[.0172,3.3],[.0175,5.3],[.0178,2.1],[.018,4.4],[.0182,0.8],[.0185,3.0],[.0188,5.0],[.019,1.9],[.0192,4.0],[.0195,2.6],[.0198,1.1],[.0135,2.9],[.0155,3.4],[.0175,1.5],[.0115,4.3],[.0195,3.6],[.0145,4.1],
[.0200,5.2],[.0202,3.5],[.0205,1.4],[.0206,6.52],[.0208,2.5],[.021,4.3],[.0212,0.9],[.0214,0.53],[.0215,3.1],[.0218,5.5],[.022,2.0],[.0222,4.6],[.0225,1.2],[.0228,3.7],[.023,2.7],[.0232,5.0],[.0235,1.7],[.0238,4.1],[.024,3.0],[.0242,0.8],[.0245,4.8],[.0248,2.3],[.025,5.4],[.0252,1.5],[.0255,3.4],[.0258,2.0],[.026,4.4],[.0262,5.7],[.0265,2.8],[.0268,1.1],[.027,3.8],[.0272,4.9],[.0275,2.2],[.0278,1.6],[.028,4.2],[.0282,3.2],[.0285,5.3],[.0288,0.9],[.029,2.6],[.0292,4.6],[.0295,1.9],[.0298,3.5],[.0245,2.8],[.0225,3.9],[.0265,1.8],[.0285,4.0],
[.0300,5.5],[.0302,2.4],[.0305,0.7],[.0308,3.9],[.031,1.6],[.0312,4.6],[.0314,6.12],[.0315,2.9],[.0318,1.1],[.032,3.4],[.0322,5.1],[.0325,2.0],[.0328,4.3],[.033,1.4],[.0332,3.7],[.0335,5.8],[.0338,2.6],[.034,0.9],[.0342,4.8],[.0345,3.1],[.0348,1.8],[.035,5.3],[.0352,2.3],[.0354,6.63],[.0355,4.0],[.0358,1.2],[.036,3.5],[.0362,5.0],[.0365,2.7],[.0368,1.5],[.0371,6.87],[.037,4.4],[.0372,3.0],[.0375,5.6],[.0378,2.1],[.038,0.8],[.0382,3.8],[.0385,4.9],[.0388,1.7],[.039,3.2],[.0392,5.4],[.0395,2.5],[.0398,4.1],[.0345,2.2],[.0325,3.3],[.0365,4.6],[.0385,1.3],
[.0400,1.4],[.0402,3.6],[.0405,5.1],[.0408,2.2],[.041,4.5],[.0412,0.9],[.0415,3.0],[.0416,8.25],[.0418,5.6],[.042,1.9],[.0422,4.0],[.0425,2.6],[.0427,0.78],[.0428,5.0],[.043,3.3],[.0432,1.5],[.0435,4.4],[.0438,2.0],[.044,5.5],[.0442,3.7],[.0445,1.1],[.0448,4.8],[.045,2.8],[.0452,5.58],[.0455,1.7],[.0458,3.9],[.046,2.4],[.0461,6.42],[.0461,0.56],[.0462,4.6],[.0465,1.3],[.0468,3.2],[.047,5.3],[.0472,2.1],[.0475,4.2],[.0478,0.9],[.048,3.5],[.0482,5.5],[.0485,2.6],[.0488,1.6],[.049,4.7],[.0492,3.0],[.0495,1.2],[.0498,4.1],[.0445,3.1],[.0425,4.3],[.0465,2.9],[.0485,3.8],
[.0500,2.3],[.0502,5.0],[.0505,5.9],[.0505,3.6],[.0508,1.4],[.051,4.3],[.0512,2.8],[.0515,0.9],[.0518,4.8],[.052,3.2],[.0522,1.8],[.0525,5.4],[.0528,2.5],[.053,4.0],[.0532,5.85],[.0532,1.2],[.0535,3.5],[.0538,4.6],[.054,2.0],[.0542,1.0],[.0545,3.9],[.0548,5.2],[.055,2.7],[.0552,4.4],[.0555,1.6],[.0558,3.1],[.056,5.7],[.0562,0.67],[.0562,2.3],[.0565,4.2],[.0568,1.3],[.057,3.7],[.0572,5.0],[.0575,2.6],[.0578,4.7],[.058,1.8],[.0582,3.4],[.0585,5.5],[.0588,2.1],[.059,0.9],[.0592,4.1],[.0595,3.0],[.0598,1.5],[.0545,3.0],[.0525,4.5],[.0565,3.4],[.0585,4.3],
[.0600,4.8],[.0602,2.4],[.0605,3.7],[.0608,1.2],[.061,5.6],[.0612,2.9],[.0615,4.3],[.0618,0.9],[.062,3.3],[.0622,5.1],[.0625,1.7],[.0628,4.0],[.063,2.6],[.0632,5.8],[.0635,1.4],[.0638,3.6],[.064,4.7],[.0642,2.1],[.0645,0.8],[.0648,3.9],[.065,5.3],[.0652,2.7],[.0655,1.5],[.0658,4.4],[.0659,0.69],[.066,3.1],[.0662,5.0],[.0665,2.0],[.0668,4.2],[.067,1.1],[.0672,3.5],[.0675,0.56],[.0675,5.6],[.0678,2.5],[.068,4.6],[.0682,1.6],[.0685,3.8],[.0686,6.44],[.0688,0.7],[.069,2.9],[.0692,5.2],[.0695,1.3],[.0698,4.1],[.0645,3.3],[.0625,2.8],[.0665,4.5],[.0685,2.2],
[.0700,0.9],[.0702,3.4],[.0705,1.6],[.0708,4.7],[.071,2.3],[.0712,0.6],[.0715,5.3],[.0718,1.2],[.072,3.9],[.0722,2.0],[.0725,0.8],[.0728,4.5],[.073,1.5],[.0732,5.8],[.0735,2.8],[.0738,1.0],[.074,4.1],[.0742,1.9],[.0745,0.6],[.0748,3.5],[.075,5.0],[.0752,1.3],[.0755,2.6],[.0758,4.8],[.076,0.9],[.0762,1.7],[.0764,6.39],[.0765,3.2],[.0768,0.5],[.077,4.4],[.0772,1.1],[.0775,2.2],[.0778,5.4],[.078,6.2],[.0782,1.4],[.0785,6.06],[.0785,3.7],[.0788,0.8],[.079,2.5],[.0792,4.9],[.0795,1.8],[.0798,3.0],[.0745,1.4],[.0725,2.4],[.0765,1.1],[.0755,3.8],[.0735,0.7],
[.0800,1.2],[.0801,6.33],[.0802,4.2],[.0805,2.0],[.0808,5.5],[.081,0.8],[.0812,3.3],[.0815,1.6],[.0818,4.7],[.082,2.5],[.0822,5.9],[.0825,1.1],[.0828,3.8],[.083,1.8],[.0832,4.4],[.0835,0.7],[.0838,2.9],[.084,5.2],[.0842,1.4],[.0845,3.5],[.0848,2.2],[.085,4.9],[.0852,0.9],[.0855,3.0],[.0858,5.6],[.086,1.5],[.0862,4.0],[.0865,2.6],[.0868,1.0],[.087,4.6],[.0872,3.2],[.0875,1.9],[.0878,5.3],[.088,2.4],[.0882,6.39],[.0885,0.8],[.0888,3.7],[.089,1.3],[.0892,4.3],[.0895,2.8],[.0896,6.6],[.0898,1.6],[.0845,1.3],[.0825,2.6],[.0865,3.6],[.0885,1.9],
[.0900,3.1],[.0902,5.0],[.0905,1.2],[.0908,4.1],[.091,2.3],[.0912,6.2],[.0915,0.9],[.0917,6.28],[.0918,3.6],[.092,1.7],[.0922,4.8],[.0925,2.6],[.0928,5.5],[.093,1.0],[.0932,3.3],[.0935,2.0],[.0938,4.5],[.094,5.9],[.0942,1.4],[.0942,6.69],[.0945,3.8],[.0948,2.2],[.095,0.8],[.0952,4.2],[.0955,5.4],[.0958,1.8],[.0961,7.73],[.096,3.0],[.0962,2.5],[.0965,4.9],[.0968,1.2],[.097,3.5],[.0972,5.7],[.0975,2.1],[.0978,4.3],[.098,0.9],[.0982,3.9],[.0985,1.6],[.0987,6.55],[.0988,5.1],[.099,2.8],[.0992,4.6],[.0995,1.3],[.0998,3.4],[.0945,2.8],[.0925,3.9],[.0965,1.9],
[.1000,4.0],[.1002,1.5],[.1005,5.3],[.1008,2.7],[.101,0.6],[.1012,3.6],[.1015,4.8],[.1018,1.9],[.102,3.0],[.1022,5.6],[.1025,1.1],[.1028,4.3],[.103,2.2],[.1032,0.8],[.1035,3.8],[.1038,5.0],[.104,1.6],[.1042,2.9],[.1045,4.5],[.1048,0.5],[.105,3.3],[.1052,5.5],[.1055,1.3],[.1058,2.4],[.106,4.1],[.1062,0.9],[.1065,3.6],[.1068,1.8],[.107,5.2],[.1072,2.6],[.1075,4.7],[.1076,5.93],[.1078,1.0],[.108,3.1],[.1082,2.0],[.1085,4.2],[.1088,0.7],[.109,3.5],[.1092,5.0],[.1095,1.5],[.1098,2.8],[.1045,2.3],[.1025,3.4],[.1065,4.4],[.1085,1.2],
[.1100,4.6],[.1102,0.4],[.1105,2.2],[.1108,3.7],[.111,1.3],[.1112,5.1],[.1115,2.8],[.1118,0.6],[.112,4.0],[.1122,1.8],[.1125,3.3],[.1128,5.4],[.113,0.9],[.1132,2.5],[.1135,4.4],[.1138,1.5],[.114,3.0],[.1142,0.3],[.1145,4.9],[.1148,2.0],[.115,3.8],[.1152,1.1],[.1155,5.6],[.1158,2.7],[.116,0.7],[.1162,4.2],[.1165,1.7],[.1168,3.4],[.117,0.4],[.1172,4.8],[.1175,2.3],[.1178,1.0],[.118,3.6],[.1182,5.0],[.1185,1.4],[.1188,6.28],[.1188,2.9],[.119,0.8],[.1192,4.1],[.1195,2.1],[.1197,5.85],[.1198,3.2],[.1145,1.2],[.1125,2.4],[.1165,4.0],[.1185,3.5],
[.1200,1.0],[.1202,3.9],[.1205,0.5],[.1208,2.4],[.121,4.5],[.1212,1.6],[.1215,3.3],[.1218,0.8],[.122,5.2],[.1222,2.0],[.1225,3.7],[.1228,1.2],[.123,4.1],[.1232,0.4],[.1235,2.8],[.1238,4.8],[.124,1.5],[.1242,3.5],[.1245,0.7],[.1248,4.3],[.125,2.2],[.1252,3.9],[.1255,1.1],[.1258,5.0],[.126,0.5],[.1262,3.2],[.1265,1.8],[.1268,4.0],[.127,0.9],[.1272,3.6],[.1275,2.5],[.1278,0.3],[.128,4.4],[.1282,1.4],[.1285,3.0],[.1288,5.4],[.129,0.8],[.1292,3.8],[.1295,1.9],[.1298,4.2],[.1245,3.1],[.1225,0.9],[.1265,3.6],[.1285,0.6],[.1255,4.6],
[.1300,3.4],[.1302,0.6],[.1305,2.0],[.1306,-0.22],[.1308,4.3],[.131,1.2],[.1312,3.7],[.1315,0.4],[.1318,2.6],[.132,4.6],[.1322,1.0],[.1325,3.2],[.1328,0.7],[.133,3.9],[.1332,1.6],[.1335,4.2],[.1338,0.3],[.134,2.3],[.1342,3.6],[.1345,1.1],[.1348,4.5],[.135,0.6],[.1352,2.9],[.1355,3.8],[.1358,1.4],[.136,0.2],[.1362,4.0],[.1365,2.1],[.1368,3.3],[.137,0.8],[.1372,4.7],[.1375,1.7],[.1378,3.0],[.138,0.5],[.1382,2.5],[.1385,4.1],[.1388,1.2],[.139,3.5],[.1392,0.4],[.1395,4.9],[.1398,6.6],[.1398,2.0],[.1345,3.0],[.1325,4.0],[.1365,0.9],[.1385,3.4],
[.1400,0.9],[.1402,4.4],[.1405,2.4],[.1408,5.0],[.141,0.3],[.1408,7.19],[.1412,3.6],[.1415,1.5],[.1418,5.6],[.142,0.6],[.1422,2.8],[.1425,4.0],[.1428,1.1],[.143,3.3],[.1432,0.4],[.1435,2.0],[.1438,4.7],[.144,0.8],[.1442,3.8],[.1445,1.6],[.1448,0.2],[.145,3.1],[.1452,7.09],[.1452,1.0],[.1455,4.2],[.1458,2.5],[.146,0.5],[.1462,3.5],[.1465,1.3],[.1468,5.7],[.147,0.7],[.1472,3.9],[.1475,2.2],[.1478,0.3],[.148,4.5],[.1482,1.8],[.1485,3.0],[.1488,0.9],[.149,5.0],[.1492,2.6],[.1495,0.4],[.1498,3.7],[.1445,2.9],[.1425,1.9],[.1465,3.4],[.1485,1.2],
[.1500,1.3],[.1502,4.0],[.1505,6.1],[.1505,0.5],[.1508,3.3],[.151,1.8],[.1512,5.2],[.1515,0.2],[.1516,6.03],[.1518,2.7],[.152,0.8],[.1522,4.4],[.1525,1.5],[.1528,3.6],[.153,0.3],[.1532,2.1],[.1535,5.0],[.1538,0.9],[.154,3.0],[.1542,1.3],[.1545,4.2],[.1548,0.1],[.155,2.5],[.1552,0.7],[.1555,3.8],[.1558,1.1],[.156,5.5],[.1562,-0.2],[.1565,2.9],[.1568,-0.68],[.157,5.83],[.157,0.5],[.1572,4.6],[.1575,1.6],[.1578,-0.3],[.158,3.2],[.1582,0.6],[.1585,2.0],[.1588,4.9],[.159,0.2],[.1592,1.4],[.1595,3.5],[.1598,0.8],[.1545,2.3],[.1525,0.4],[.1565,1.0],[.1585,0.3],[.1535,1.2],
[.1600,2.6],[.1602,0.4],[.1605,4.5],[.1608,1.2],[.161,-0.2],[.1612,3.4],[.1615,0.8],[.1618,2.1],[.162,5.2],[.1622,0.1],[.1625,1.5],[.1628,3.7],[.163,0.6],[.1632,-0.4],[.1635,2.4],[.1638,4.1],[.164,1.0],[.1642,0.3],[.1645,3.0],[.1648,1.8],[.165,-0.1],[.1652,4.6],[.1654,5.58],[.1655,0.7],[.1658,2.7],[.166,1.3],[.1662,0.2],[.1665,3.5],[.1668,1.9],[.167,-0.3],[.1672,0.9],[.1675,4.2],[.1678,2.3],[.168,0.4],[.1682,1.6],[.1685,3.1],[.1688,0.0],[.169,1.1],[.1692,2.8],[.1695,5.09],[.1695,0.5],[.1698,1.4],[.1645,0.5],[.1625,0.9],[.1665,-0.1],[.1685,0.8],[.1615,1.9],
[.1700,3.9],[.1702,0.6],[.1705,1.7],[.1708,-0.3],[.171,2.6],[.1712,0.9],[.1715,4.4],[.1718,0.2],[.172,1.3],[.1722,3.2],[.1725,-0.5],[.1728,0.7],[.173,2.0],[.1732,4.7],[.1735,0.4],[.1738,1.5],[.174,-0.2],[.1742,3.0],[.1745,0.8],[.1748,2.3],[.175,5.34],[.175,-0.68],[.175,-1.22],[.1752,1.1],[.1755,4.0],[.1758,0.3],[.176,2.8],[.1762,-0.4],[.1764,4.96],[.1765,1.6],[.1768,0.5],[.177,3.6],[.1772,1.0],[.1775,-0.1],[.1778,2.2],[.178,0.6],[.1782,4.3],[.1785,1.3],[.1788,-0.6],[.179,0.9],[.1792,3.3],[.1795,0.2],[.1798,1.8],[.1745,0.0],[.1725,1.2],[.1765,0.4],[.1785,0.1],[.1735,-0.8],
[.1800,0.4],[.1802,2.5],[.1805,-0.3],[.1808,4.1],[.181,1.2],[.1812,0.1],[.1815,3.4],[.1818,0.8],[.182,-0.5],[.1822,1.9],[.1825,4.4],[.1828,0.3],[.183,1.4],[.1832,-0.2],[.1835,2.9],[.1838,0.6],[.184,4.5],[.1842,1.0],[.1845,-0.6],[.1848,2.2],[.185,0.2],[.1852,3.7],[.1855,0.9],[.1858,-0.4],[.186,1.6],[.1862,0.5],[.1865,2.7],[.1868,-0.1],[.187,4.0],[.1872,1.1],[.1875,0.3],[.1878,-0.7],[.188,1.8],[.1882,3.1],[.1885,0.6],[.1888,-0.3],[.189,2.4],[.1892,0.0],[.1895,1.3],[.1898,3.8],[.1845,0.4],[.1825,0.7],[.1865,-0.2],[.1885,1.0],[.1855,1.5],
[.1900,0.2],[.1902,1.5],[.1905,-0.4],[.1908,3.3],[.191,0.7],[.1912,-0.1],[.1913,-0.73],[.1915,2.0],[.1917,-0.93],[.1918,0.4],[.192,4.3],[.1922,1.0],[.1925,-0.3],[.1928,2.7],[.193,0.1],[.1932,1.7],[.1935,3.9],[.1938,0.5],[.194,-0.5],[.1942,1.2],[.1945,2.4],[.1948,0.0],[.195,3.4],[.1952,0.8],[.1955,-0.6],[.1958,1.9],[.196,0.3],[.1962,4.5],[.1964,4.77],[.1965,-0.2],[.1968,1.4],[.197,2.9],[.1972,0.6],[.1975,-0.4],[.1978,1.8],[.198,0.2],[.1982,3.6],[.1985,-1.47],[.1985,1.1],[.1989,-1.17],[.1988,-0.3],[.199,4.2],[.1992,0.9],[.1995,2.5],[.1998,-0.1],[.2,1.4],[.2,3.5],[.2,0.4],[.2,-0.6],[.1945,0.6],[.1925,0.9],[.1965,1.2]
];
const heatFluxMore = [
[.0002,2.9],[.0004,1.4],[.0006,4.3],[.0009,2.0],[.0011,3.7],[.0014,1.1],[.0016,4.9],[.0019,2.6],[.0021,3.2],[.0024,1.7],[.0026,4.5],[.0029,2.3],[.0031,3.5],[.0034,1.4],[.0036,2.8],[.0039,4.1],[.0041,1.2],[.0044,3.4],[.0046,1.9],[.0049,4.7],[.0051,2.2],[.0054,3.8],[.0056,1.3],[.0059,2.7],[.0061,4.2],[.0064,0.9],[.0066,2.4],[.0069,3.5],[.0071,1.7],[.0074,4.4],[.0076,2.9],[.0079,1.2],[.0081,3.6],[.0084,2.1],[.0086,4.8],[.0089,1.5],[.0091,3.2],[.0094,2.3],[.0096,4.5],[.0099,1.8],
[.0101,3.4],[.0104,1.5],[.0106,4.0],[.0109,2.4],[.0111,1.0],[.0114,3.7],[.0116,5.0],[.0119,2.0],[.0121,3.3],[.0124,1.3],[.0126,4.5],[.0129,2.6],[.0131,1.6],[.0134,3.9],[.0136,2.2],[.0139,4.8],[.0141,1.1],[.0144,3.0],[.0146,2.5],[.0149,4.2],[.0151,1.4],[.0154,3.6],[.0156,2.1],[.0159,5.2],[.0161,1.0],[.0164,3.1],[.0166,2.7],[.0169,4.6],[.0171,1.7],[.0174,3.9],[.0176,2.3],[.0179,4.3],[.0181,1.3],[.0184,2.9],[.0186,3.5],[.0189,1.6],[.0191,4.7],[.0194,2.1],[.0196,3.2],[.0199,4.9],
[.0201,2.2],[.0204,4.0],[.0206,1.1],[.0209,3.3],[.0211,2.6],[.0214,4.7],[.0216,1.8],[.0219,3.6],[.0221,0.9],[.0224,2.9],[.0226,4.4],[.0229,1.5],[.0231,3.9],[.0234,2.3],[.0236,5.1],[.0239,1.2],[.0241,3.4],[.0244,2.0],[.0246,4.2],[.0249,1.7],[.0251,3.0],[.0254,4.6],[.0256,2.5],[.0259,1.3],[.0261,3.7],[.0264,2.1],[.0266,4.9],[.0269,1.6],[.0271,3.2],[.0274,2.7],[.0276,4.3],[.0279,1.0],[.0281,3.5],[.0284,2.4],[.0286,1.4],[.0289,4.1],[.0291,2.9],[.0294,5.0],[.0296,1.5],[.0299,3.1],
[.0301,3.0],[.0304,1.8],[.0306,4.5],[.0309,2.2],[.0311,3.6],[.0314,1.3],[.0316,5.2],[.0319,2.7],[.0321,4.0],[.0324,1.5],[.0326,3.3],[.0329,2.4],[.0331,4.7],[.0334,1.0],[.0336,3.5],[.0339,2.0],[.0341,4.2],[.0344,1.6],[.0346,3.9],[.0349,2.6],[.0351,1.2],[.0354,4.5],[.0356,2.9],[.0359,3.7],[.0361,1.8],[.0364,5.0],[.0366,2.2],[.0369,3.3],[.0371,1.0],[.0374,4.1],[.0376,2.7],[.0379,3.6],[.0381,1.4],[.0384,4.4],[.0386,2.0],[.0389,3.0],[.0391,1.6],[.0394,4.8],[.0396,2.3],[.0399,3.4],
[.0401,4.2],[.0404,2.0],[.0406,3.4],[.0409,1.2],[.0411,4.9],[.0414,2.5],[.0416,3.8],[.0419,1.5],[.0421,3.0],[.0424,4.6],[.0426,1.9],[.0429,3.6],[.0431,2.3],[.0434,5.2],[.0436,1.0],[.0439,3.1],[.0441,2.7],[.0444,4.3],[.0446,1.4],[.0449,3.5],[.0451,2.1],[.0454,4.5],[.0456,1.6],[.0459,2.9],[.0461,3.7],[.0464,1.1],[.0466,4.0],[.0469,2.4],[.0471,3.3],[.0474,1.7],[.0476,4.8],[.0479,2.2],[.0481,3.9],[.0484,1.3],[.0486,3.0],[.0489,2.6],[.0491,4.4],[.0494,1.8],[.0496,3.4],[.0499,2.3],
[.0501,3.9],[.0504,1.6],[.0506,4.5],[.0509,2.2],[.0511,3.4],[.0514,1.1],[.0516,4.1],[.0519,2.6],[.0521,3.8],[.0524,1.4],[.0526,4.9],[.0529,2.0],[.0531,3.1],[.0534,1.7],[.0536,4.3],[.0539,2.4],[.0541,3.6],[.0544,1.2],[.0546,4.7],[.0549,2.9],[.0551,1.5],[.0554,3.3],[.0556,4.6],[.0559,2.1],[.0561,3.9],[.0564,1.0],[.0566,2.7],[.0569,4.4],[.0571,1.9],[.0574,3.5],[.0576,2.3],[.0579,5.1],[.0581,1.3],[.0584,3.0],[.0586,2.5],[.0589,4.0],[.0591,1.6],[.0594,3.7],[.0596,2.2],[.0599,4.5],
[.0601,1.5],[.0604,3.9],[.0606,2.2],[.0609,4.5],[.0611,1.0],[.0614,3.2],[.0616,2.6],[.0619,4.9],[.0621,1.8],[.0624,3.5],[.0626,2.0],[.0629,4.3],[.0631,1.2],[.0634,3.0],[.0636,2.4],[.0639,4.6],[.0641,1.5],[.0644,3.6],[.0646,1.9],[.0649,5.0],[.0651,1.1],[.0654,3.3],[.0656,2.3],[.0659,4.0],[.0661,1.4],[.0664,2.8],[.0666,3.9],[.0669,0.9],[.0671,2.5],[.0674,4.5],[.0676,1.7],[.0679,3.4],[.0681,1.0],[.0684,4.8],[.0686,2.1],[.0689,1.4],[.0691,3.7],[.0694,0.8],[.0696,2.7],[.0699,1.9],
[.0701,1.3],[.0703,2.7],[.0706,0.8],[.0709,4.2],[.0711,1.9],[.0713,1.0],[.0716,3.6],[.0719,1.5],[.0721,4.8],[.0723,0.7],[.0726,2.0],[.0729,1.2],[.0731,3.2],[.0733,1.7],[.0736,5.1],[.0739,0.9],[.0741,2.3],[.0743,1.4],[.0746,4.4],[.0749,0.8],[.0751,1.9],[.0753,3.0],[.0756,1.2],[.0759,4.1],[.0761,2.2],[.0763,0.7],[.0766,1.5],[.0769,4.6],[.0771,2.8],[.0773,1.0],[.0776,3.4],[.0779,1.6],[.0781,5.0],[.0783,0.9],[.0786,2.1],[.0789,1.3],[.0791,3.9],[.0793,0.8],[.0796,2.6],[.0799,1.5],
[.0801,2.7],[.0803,1.0],[.0806,4.6],[.0809,1.5],[.0811,3.0],[.0813,0.9],[.0816,2.2],[.0819,5.0],[.0821,1.3],[.0823,3.5],[.0826,1.8],[.0829,4.2],[.0831,0.8],[.0833,2.4],[.0836,3.9],[.0839,1.2],[.0841,2.8],[.0843,4.8],[.0846,1.6],[.0849,3.3],[.0851,1.0],[.0853,2.1],[.0856,4.4],[.0859,1.4],[.0861,3.0],[.0863,1.9],[.0866,5.3],[.0869,0.9],[.0871,2.5],[.0873,3.8],[.0876,1.1],[.0879,2.9],[.0881,4.1],[.0883,1.5],[.0886,3.4],[.0889,2.0],[.0891,5.0],[.0893,1.2],[.0896,3.1],[.0899,2.4],
[.0901,1.5],[.0903,4.4],[.0906,2.3],[.0909,3.6],[.0911,1.1],[.0913,5.2],[.0916,2.7],[.0919,1.4],[.0921,3.9],[.0923,2.0],[.0926,4.6],[.0929,1.2],[.0931,3.0],[.0933,2.4],[.0936,5.0],[.0939,1.6],[.0941,3.5],[.0943,2.1],[.0946,4.1],[.0949,1.0],[.0951,2.9],[.0953,3.7],[.0956,1.5],[.0959,4.7],[.0961,2.2],[.0963,3.2],[.0966,1.3],[.0969,4.4],[.0971,2.6],[.0973,1.8],[.0976,3.8],[.0979,5.3],[.0981,1.4],[.0983,3.0],[.0986,2.3],[.0989,4.2],[.0991,1.1],[.0993,3.6],[.0996,2.0],[.0999,4.8],
[.1001,2.2],[.1003,4.5],[.1006,1.2],[.1009,3.4],[.1011,2.0],[.1013,4.9],[.1016,1.4],[.1019,3.1],[.1021,0.9],[.1023,4.2],[.1026,2.5],[.1029,3.7],[.1031,1.3],[.1033,4.6],[.1036,2.0],[.1039,0.7],[.1041,3.5],[.1043,2.7],[.1046,4.0],[.1049,1.5],[.1051,3.0],[.1053,0.9],[.1056,4.4],[.1059,2.2],[.1061,3.8],[.1063,1.1],[.1066,2.9],[.1069,4.8],[.1071,1.6],[.1073,3.3],[.1076,0.6],[.1079,2.4],[.1081,4.1],[.1083,1.4],[.1086,3.6],[.1089,2.1],[.1091,0.8],[.1093,4.3],[.1096,1.8],[.1099,3.9],
[.1101,3.2],[.1103,1.0],[.1106,4.3],[.1109,0.6],[.1111,2.6],[.1113,3.9],[.1116,1.4],[.1119,4.6],[.1121,0.8],[.1123,2.9],[.1126,3.6],[.1129,1.2],[.1131,4.1],[.1133,0.5],[.1136,2.2],[.1139,3.4],[.1141,1.0],[.1143,4.5],[.1146,1.8],[.1149,3.8],[.1151,0.6],[.1153,2.5],[.1156,4.0],[.1159,1.3],[.1161,3.3],[.1163,0.8],[.1166,4.7],[.1169,1.6],[.1171,2.9],[.1173,3.9],[.1176,0.5],[.1179,1.9],[.1181,4.3],[.1183,1.1],[.1186,3.1],[.1189,0.7],[.1191,3.7],[.1193,1.5],[.1196,4.4],[.1199,0.9],
[.1201,3.5],[.1203,0.7],[.1206,4.2],[.1209,1.3],[.1211,3.8],[.1213,0.4],[.1216,2.1],[.1219,4.0],[.1221,0.9],[.1223,3.3],[.1226,1.5],[.1229,3.9],[.1231,0.6],[.1233,4.4],[.1236,1.1],[.1239,3.6],[.1241,0.3],[.1243,2.6],[.1246,4.1],[.1249,1.0],[.1251,3.4],[.1253,0.5],[.1256,3.8],[.1259,1.7],[.1261,4.3],[.1263,0.8],[.1266,2.3],[.1269,3.5],[.1271,0.4],[.1273,4.0],[.1276,1.3],[.1279,3.7],[.1281,0.7],[.1283,2.8],[.1286,4.5],[.1289,1.0],[.1291,3.3],[.1293,0.5],[.1296,3.9],[.1299,1.4],
[.1301,0.9],[.1303,3.8],[.1306,0.3],[.1309,2.9],[.1311,4.1],[.1313,0.7],[.1316,3.5],[.1319,1.3],[.1321,4.4],[.1323,0.4],[.1326,2.2],[.1329,3.7],[.1331,0.8],[.1333,4.0],[.1336,1.5],[.1339,3.3],[.1341,0.2],[.1343,2.6],[.1346,4.3],[.1349,0.9],[.1351,3.6],[.1353,1.2],[.1356,0.5],[.1359,4.1],[.1361,1.8],[.1363,3.4],[.1366,0.6],[.1369,2.8],[.1371,3.9],[.1373,0.3],[.1376,1.1],[.1379,4.5],[.1381,0.8],[.1383,3.1],[.1386,1.6],[.1389,3.8],[.1391,0.4],[.1393,2.3],[.1396,0.9],[.1399,3.5],
[.1401,2.9],[.1403,0.5],[.1406,4.0],[.1409,1.2],[.1411,0.2],[.1413,3.4],[.1416,0.8],[.1419,2.3],[.1421,4.3],[.1423,0.4],[.1426,1.4],[.1429,3.6],[.1431,0.7],[.1433,2.0],[.1436,4.1],[.1439,0.3],[.1441,1.1],[.1443,3.2],[.1446,0.6],[.1449,2.5],[.1451,3.8],[.1453,0.4],[.1456,1.3],[.1459,3.0],[.1461,0.9],[.1463,4.4],[.1466,0.2],[.1469,1.7],[.1471,3.5],[.1473,0.6],[.1476,2.8],[.1479,1.0],[.1481,3.9],[.1483,0.3],[.1486,1.5],[.1489,3.3],[.1491,0.7],[.1493,2.2],[.1496,4.6],[.1499,0.5],
[.1501,0.6],[.1503,2.4],[.1506,0.1],[.1509,3.8],[.1511,1.0],[.1513,0.3],[.1516,2.9],[.1519,0.6],[.1521,4.2],[.1523,1.2],[.1526,-0.1],[.1529,2.2],[.1531,0.7],[.1533,3.4],[.1536,0.2],[.1539,1.5],[.1541,4.5],[.1543,0.5],[.1546,-0.3],[.1549,1.8],[.1551,0.9],[.1553,3.1],[.1556,0.3],[.1559,2.6],[.1561,1.1],[.1563,0.0],[.1566,3.9],[.1569,0.7],[.1571,1.9],[.1573,0.2],[.1576,2.7],[.1579,-0.4],[.1581,1.2],[.1583,4.0],[.1586,0.5],[.1589,1.6],[.1591,-0.1],[.1593,2.9],[.1596,0.9],[.1599,0.3],
[.1601,1.0],[.1603,-0.3],[.1606,0.6],[.1609,2.8],[.1611,0.2],[.1613,1.4],[.1616,3.9],[.1619,-0.1],[.1621,0.8],[.1623,2.2],[.1626,0.3],[.1629,-0.5],[.1631,1.7],[.1633,0.5],[.1636,3.3],[.1639,0.1],[.1641,1.2],[.1643,-0.2],[.1646,2.5],[.1649,0.7],[.1651,0.2],[.1653,1.5],[.1656,4.0],[.1659,-0.3],[.1661,0.6],[.1663,2.0],[.1666,0.4],[.1669,1.1],[.1671,3.0],[.1673,-0.4],[.1676,0.5],[.1679,1.8],[.1681,0.0],[.1683,2.6],[.1686,0.9],[.1689,-0.2],[.1691,1.3],[.1693,0.4],[.1696,3.6],[.1699,0.7],
[.1701,0.3],[.1703,1.4],[.1706,-0.5],[.1709,0.7],[.1711,2.1],[.1713,0.1],[.1716,1.0],[.1719,-0.3],[.1721,3.4],[.1723,0.5],[.1726,1.7],[.1729,-0.1],[.1731,0.8],[.1733,2.6],[.1736,0.2],[.1739,1.2],[.1741,-0.6],[.1743,0.6],[.1746,3.8],[.1749,0.0],[.1751,1.5],[.1753,0.3],[.1756,-0.4],[.1759,1.9],[.1761,0.7],[.1763,2.9],[.1766,0.1],[.1769,1.1],[.1771,-0.2],[.1773,0.5],[.1776,2.4],[.1779,0.9],[.1781,-0.5],[.1783,1.6],[.1786,0.4],[.1789,3.1],[.1791,0.0],[.1793,1.0],[.1796,-0.3],[.1799,0.6],
[.1801,1.3],[.1803,-0.1],[.1806,0.7],[.1809,2.3],[.1811,0.2],[.1813,-0.6],[.1816,1.0],[.1819,0.4],[.1821,3.0],[.1823,-0.3],[.1826,0.8],[.1829,1.6],[.1831,0.0],[.1833,3.6],[.1836,0.5],[.1839,-0.4],[.1841,1.2],[.1843,0.3],[.1846,2.0],[.1849,-0.2],[.1851,0.9],[.1853,0.1],[.1856,3.3],[.1859,0.6],[.1861,-0.5],[.1863,1.4],[.1866,0.2],[.1869,2.6],[.1871,-0.1],[.1873,0.7],[.1876,1.9],[.1879,0.3],[.1881,-0.6],[.1883,1.1],[.1886,0.4],[.1889,3.4],[.1891,-0.2],[.1893,0.8],[.1896,0.1],[.1899,1.6],
[.1901,-0.2],[.1903,0.9],[.1906,0.3],[.1909,2.2],[.1911,-0.5],[.1913,0.6],[.1916,1.3],[.1919,-0.1],[.1921,0.4],[.1923,3.1],[.1926,-0.4],[.1929,0.8],[.1931,1.7],[.1933,0.1],[.1936,-0.6],[.1939,0.5],[.1941,2.7],[.1943,-0.2],[.1946,1.0],[.1949,0.3],[.1951,-0.5],[.1953,1.5],[.1956,0.2],[.1959,3.7],[.1961,-0.3],[.1963,0.7],[.1966,1.9],[.1969,-0.1],[.1971,0.4],[.1973,-0.7],[.1976,1.1],[.1979,0.6],[.1981,2.3],[.1983,-0.4],[.1986,0.8],[.1989,0.1],[.1991,-0.5],[.1993,1.6],[.1996,0.3],[.1999,-0.2]
];

const FONT = 'Liberation Serif';
const INK = '#111';
const DOT = '#6b6b6b';

const panels = [
  {tag: '(a)', data: dragForce.concat(dragForceMore), top: 68, height: 376, yMin: -0.01, yMax: 0.05, yStep: 0.01, yMinor: 5, yTicks: forceTicks,
   yName: '{r|Quasi-steady drag force in }{i|x}{r| direction [N]}'},
  {tag: '(b)', data: pressureForce.concat(pressureForceMore), top: 575, height: 377, yMin: -0.01, yMax: 0.05, yStep: 0.01, yMinor: 5, yTicks: forceTicks,
   yName: '{r|Pressure gradient force in }{i|x}{r| direction [N]}'},
  {tag: '(c)', data: heatFlux.concat(heatFluxMore), top: 1083, height: 377, yMin: -2, yMax: 10, yStep: 2, yMinor: 4, yTicks: fluxTicks,
   yName: '{r|Energy flux by heat transfer [W]}'}
];

const rich = {
  r: {fontFamily: FONT, fontSize: 29, color: INK},
  i: {fontFamily: FONT, fontSize: 29, color: INK, fontStyle: 'italic'}
};
const lineStyle = {color: INK, width: 1};

const grid = [], xAxis = [], yAxis = [], series = [], graphic = [];
panels.forEach((p, k) => {
  grid.push({left: 114, top: p.top, width: 504, height: p.height, containLabel: false});
  const xBase = {
    type: 'value', gridIndex: k, min: 0, max: 0.2, interval: 0.05,
    axisLine: {show: true, onZero: false, lineStyle},
    axisTick: {show: true, inside: true, length: 7, lineStyle},
    minorTick: {show: true, splitNumber: 5, length: 4, lineStyle},
    splitLine: {show: false}, minorSplitLine: {show: false}
  };
  xAxis.push(Object.assign({}, xBase, {
    position: 'bottom',
    axisLabel: {fontFamily: FONT, fontSize: 28, color: INK, margin: 4,
      formatter: (v, i) => heightTicks[i] ?? ''},
    name: '{r|Initial height of particles in }{i|y}{r| direction [m]}',
    nameLocation: 'middle', nameGap: 43,
    nameTextStyle: {fontFamily: FONT, fontSize: 29, color: INK, rich}
  }));
  xAxis.push(Object.assign({}, xBase, {position: 'top', axisLabel: {show: false}}));
  const yBase = {
    type: 'value', gridIndex: k, min: p.yMin, max: p.yMax, interval: p.yStep,
    axisLine: {show: true, onZero: false, lineStyle},
    axisTick: {show: true, inside: true, length: 7, lineStyle},
    minorTick: {show: true, splitNumber: p.yMinor, length: 4, lineStyle},
    splitLine: {show: false}, minorSplitLine: {show: false}
  };
  yAxis.push(Object.assign({}, yBase, {
    position: 'left',
    axisLabel: {fontFamily: FONT, fontSize: 28, color: INK, margin: 8,
      formatter: (v, i) => p.yTicks[i] ?? ''},
    name: p.yName, nameLocation: 'middle', nameGap: 72,
    nameTextStyle: {fontFamily: FONT, fontSize: 29, color: INK, rich}
  }));
  yAxis.push(Object.assign({}, yBase, {position: 'right', axisLabel: {show: false}}));
  series.push({
    type: 'scatter', xAxisIndex: 2 * k, yAxisIndex: 2 * k, data: p.data,
    symbol: 'circle', symbolSize: 7.5, itemStyle: {color: DOT, opacity: 1},
    silent: true, large: false, z: 1
  });
  graphic.push({
    type: 'text', left: 126, top: p.top + 10,
    style: {text: p.tag, font: 'bold 27px "Liberation Serif"', fill: INK}
  });
});

const chart = echarts.init(document.getElementById('c'), null, {renderer: 'canvas'});
chart.setOption({
  animation: false, backgroundColor: '#fff',
  grid, xAxis, yAxis, series, graphic
});
</script>
</body></html>
